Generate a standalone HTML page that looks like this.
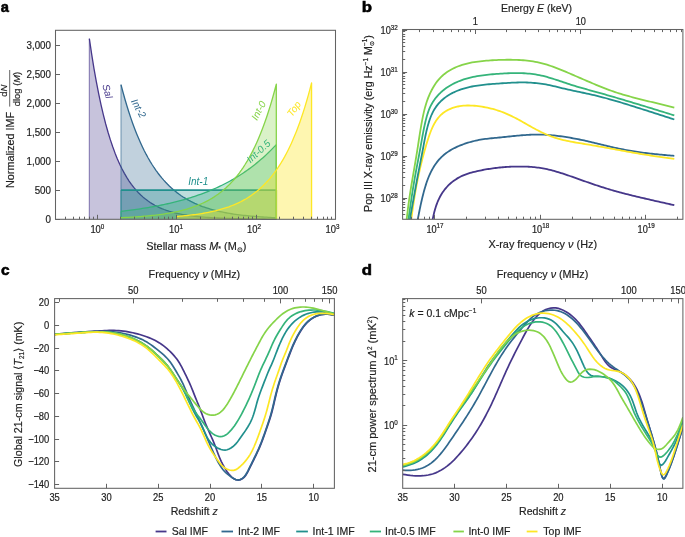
<!DOCTYPE html>
<html><head><meta charset="utf-8"><style>
html,body{margin:0;padding:0;background:#fff;width:685px;height:537px;overflow:hidden}
svg{display:block;font-family:"Liberation Sans", sans-serif;will-change:transform}
text[fill="#222222"]{stroke:#222222;stroke-width:0.18px}
</style></head><body>
<svg width="685" height="537" viewBox="0 0 685 537">
<rect width="685" height="537" fill="#fff"/>
<g>
<path d="M89.36,219.2 L89.36,38.67 L91.69,54.44 L94.03,68.83 L96.37,81.96 L98.7,93.95 L101.04,104.89 L103.38,114.87 L105.71,123.99 L108.05,132.3 L110.39,139.89 L112.73,146.82 L115.06,153.14 L117.4,158.91 L119.74,164.18 L122.07,168.98 L124.41,173.37 L126.75,177.37 L129.08,181.03 L131.42,184.36 L133.76,187.4 L136.09,190.18 L138.43,192.72 L140.77,195.03 L143.11,197.14 L145.44,199.07 L147.78,200.83 L150.12,202.43 L152.45,203.89 L154.79,205.23 L157.13,206.45 L159.46,207.57 L161.8,208.58 L164.14,209.51 L166.47,210.36 L168.81,211.13 L171.15,211.83 L173.48,212.48 L175.82,213.06 L178.16,213.6 L180.5,214.09 L182.83,214.54 L185.17,214.94 L187.51,215.31 L189.84,215.65 L192.18,215.96 L194.52,216.25 L196.85,216.5 L199.19,216.74 L201.53,216.95 L203.86,217.15 L206.2,217.33 L208.54,217.49 L210.88,217.64 L213.21,217.78 L215.55,217.9 L217.89,218.02 L220.22,218.12 L222.56,218.21 L224.9,218.3 L227.23,218.38 L229.57,218.45 L231.91,218.52 L234.24,218.58 L236.58,218.63 L238.92,218.68 L241.26,218.73 L243.59,218.77 L245.93,218.8 L248.27,218.84 L250.6,218.87 L252.94,218.9 L255.28,218.93 L257.61,218.95 L259.95,218.97 L262.29,218.99 L264.62,219.01 L266.96,219.03 L269.3,219.04 L271.63,219.06 L273.97,219.07 L276.31,219.08 L276.31,219.2 Z" fill="#46378a" fill-opacity="0.3" stroke="none"/>
<path d="M89.36,38.67 L91.69,54.44 L94.03,68.83 L96.37,81.96 L98.7,93.95 L101.04,104.89 L103.38,114.87 L105.71,123.99 L108.05,132.3 L110.39,139.89 L112.73,146.82 L115.06,153.14 L117.4,158.91 L119.74,164.18 L122.07,168.98 L124.41,173.37 L126.75,177.37 L129.08,181.03 L131.42,184.36 L133.76,187.4 L136.09,190.18 L138.43,192.72 L140.77,195.03 L143.11,197.14 L145.44,199.07 L147.78,200.83 L150.12,202.43 L152.45,203.89 L154.79,205.23 L157.13,206.45 L159.46,207.57 L161.8,208.58 L164.14,209.51 L166.47,210.36 L168.81,211.13 L171.15,211.83 L173.48,212.48 L175.82,213.06 L178.16,213.6 L180.5,214.09 L182.83,214.54 L185.17,214.94 L187.51,215.31 L189.84,215.65 L192.18,215.96 L194.52,216.25 L196.85,216.5 L199.19,216.74 L201.53,216.95 L203.86,217.15 L206.2,217.33 L208.54,217.49 L210.88,217.64 L213.21,217.78 L215.55,217.9 L217.89,218.02 L220.22,218.12 L222.56,218.21 L224.9,218.3 L227.23,218.38 L229.57,218.45 L231.91,218.52 L234.24,218.58 L236.58,218.63 L238.92,218.68 L241.26,218.73 L243.59,218.77 L245.93,218.8 L248.27,218.84 L250.6,218.87 L252.94,218.9 L255.28,218.93 L257.61,218.95 L259.95,218.97 L262.29,218.99 L264.62,219.01 L266.96,219.03 L269.3,219.04 L271.63,219.06 L273.97,219.07 L276.31,219.08 L276.31,219.2" fill="none" stroke="#46378a" stroke-width="1.3" stroke-linejoin="round"/>
<path d="M89.36,219.2 L89.36,38.67" fill="none" stroke="#46378a" stroke-width="1.2" stroke-opacity="0.55"/>
<path d="M120.98,219.2 L120.98,84.64 L122.93,92 L124.87,98.96 L126.81,105.53 L128.75,111.75 L130.69,117.63 L132.63,123.18 L134.58,128.43 L136.52,133.4 L138.46,138.09 L140.4,142.53 L142.34,146.72 L144.28,150.69 L146.22,154.43 L148.17,157.98 L150.11,161.32 L152.05,164.49 L153.99,167.48 L155.93,170.31 L157.87,172.98 L159.82,175.51 L161.76,177.9 L163.7,180.16 L165.64,182.3 L167.58,184.31 L169.52,186.22 L171.46,188.03 L173.41,189.73 L175.35,191.34 L177.29,192.87 L179.23,194.31 L181.17,195.67 L183.11,196.96 L185.06,198.17 L187,199.32 L188.94,200.41 L190.88,201.44 L192.82,202.41 L194.76,203.33 L196.71,204.2 L198.65,205.02 L200.59,205.79 L202.53,206.53 L204.47,207.22 L206.41,207.87 L208.35,208.49 L210.3,209.08 L212.24,209.63 L214.18,210.16 L216.12,210.65 L218.06,211.12 L220,211.56 L221.95,211.98 L223.89,212.37 L225.83,212.75 L227.77,213.1 L229.71,213.43 L231.65,213.75 L233.59,214.05 L235.54,214.33 L237.48,214.59 L239.42,214.85 L241.36,215.08 L243.3,215.31 L245.24,215.52 L247.19,215.72 L249.13,215.91 L251.07,216.09 L253.01,216.26 L254.95,216.42 L256.89,216.58 L258.83,216.72 L260.78,216.86 L262.72,216.98 L264.66,217.1 L266.6,217.22 L268.54,217.33 L270.48,217.43 L272.43,217.53 L274.37,217.62 L276.31,217.7 L276.31,219.2 Z" fill="#31688e" fill-opacity="0.3" stroke="none"/>
<path d="M120.98,84.64 L122.93,92 L124.87,98.96 L126.81,105.53 L128.75,111.75 L130.69,117.63 L132.63,123.18 L134.58,128.43 L136.52,133.4 L138.46,138.09 L140.4,142.53 L142.34,146.72 L144.28,150.69 L146.22,154.43 L148.17,157.98 L150.11,161.32 L152.05,164.49 L153.99,167.48 L155.93,170.31 L157.87,172.98 L159.82,175.51 L161.76,177.9 L163.7,180.16 L165.64,182.3 L167.58,184.31 L169.52,186.22 L171.46,188.03 L173.41,189.73 L175.35,191.34 L177.29,192.87 L179.23,194.31 L181.17,195.67 L183.11,196.96 L185.06,198.17 L187,199.32 L188.94,200.41 L190.88,201.44 L192.82,202.41 L194.76,203.33 L196.71,204.2 L198.65,205.02 L200.59,205.79 L202.53,206.53 L204.47,207.22 L206.41,207.87 L208.35,208.49 L210.3,209.08 L212.24,209.63 L214.18,210.16 L216.12,210.65 L218.06,211.12 L220,211.56 L221.95,211.98 L223.89,212.37 L225.83,212.75 L227.77,213.1 L229.71,213.43 L231.65,213.75 L233.59,214.05 L235.54,214.33 L237.48,214.59 L239.42,214.85 L241.36,215.08 L243.3,215.31 L245.24,215.52 L247.19,215.72 L249.13,215.91 L251.07,216.09 L253.01,216.26 L254.95,216.42 L256.89,216.58 L258.83,216.72 L260.78,216.86 L262.72,216.98 L264.66,217.1 L266.6,217.22 L268.54,217.33 L270.48,217.43 L272.43,217.53 L274.37,217.62 L276.31,217.7 L276.31,219.2" fill="none" stroke="#31688e" stroke-width="1.3" stroke-linejoin="round"/>
<path d="M120.98,219.2 L120.98,84.64" fill="none" stroke="#31688e" stroke-width="1.2" stroke-opacity="0.55"/>
<path d="M120.98,219.2 L120.98,190.08 L122.93,190.08 L124.87,190.08 L126.81,190.08 L128.75,190.08 L130.69,190.08 L132.63,190.08 L134.58,190.08 L136.52,190.08 L138.46,190.08 L140.4,190.08 L142.34,190.08 L144.28,190.08 L146.22,190.08 L148.17,190.08 L150.11,190.08 L152.05,190.08 L153.99,190.08 L155.93,190.08 L157.87,190.08 L159.82,190.08 L161.76,190.08 L163.7,190.08 L165.64,190.08 L167.58,190.08 L169.52,190.08 L171.46,190.08 L173.41,190.08 L175.35,190.08 L177.29,190.08 L179.23,190.08 L181.17,190.08 L183.11,190.08 L185.06,190.08 L187,190.08 L188.94,190.08 L190.88,190.08 L192.82,190.08 L194.76,190.08 L196.71,190.08 L198.65,190.08 L200.59,190.08 L202.53,190.08 L204.47,190.08 L206.41,190.08 L208.35,190.08 L210.3,190.08 L212.24,190.08 L214.18,190.08 L216.12,190.08 L218.06,190.08 L220,190.08 L221.95,190.08 L223.89,190.08 L225.83,190.08 L227.77,190.08 L229.71,190.08 L231.65,190.08 L233.59,190.08 L235.54,190.08 L237.48,190.08 L239.42,190.08 L241.36,190.08 L243.3,190.08 L245.24,190.08 L247.19,190.08 L249.13,190.08 L251.07,190.08 L253.01,190.08 L254.95,190.08 L256.89,190.08 L258.83,190.08 L260.78,190.08 L262.72,190.08 L264.66,190.08 L266.6,190.08 L268.54,190.08 L270.48,190.08 L272.43,190.08 L274.37,190.08 L276.31,190.08 L276.31,219.2 Z" fill="#21908d" fill-opacity="0.3" stroke="none"/>
<path d="M120.98,190.08 L122.93,190.08 L124.87,190.08 L126.81,190.08 L128.75,190.08 L130.69,190.08 L132.63,190.08 L134.58,190.08 L136.52,190.08 L138.46,190.08 L140.4,190.08 L142.34,190.08 L144.28,190.08 L146.22,190.08 L148.17,190.08 L150.11,190.08 L152.05,190.08 L153.99,190.08 L155.93,190.08 L157.87,190.08 L159.82,190.08 L161.76,190.08 L163.7,190.08 L165.64,190.08 L167.58,190.08 L169.52,190.08 L171.46,190.08 L173.41,190.08 L175.35,190.08 L177.29,190.08 L179.23,190.08 L181.17,190.08 L183.11,190.08 L185.06,190.08 L187,190.08 L188.94,190.08 L190.88,190.08 L192.82,190.08 L194.76,190.08 L196.71,190.08 L198.65,190.08 L200.59,190.08 L202.53,190.08 L204.47,190.08 L206.41,190.08 L208.35,190.08 L210.3,190.08 L212.24,190.08 L214.18,190.08 L216.12,190.08 L218.06,190.08 L220,190.08 L221.95,190.08 L223.89,190.08 L225.83,190.08 L227.77,190.08 L229.71,190.08 L231.65,190.08 L233.59,190.08 L235.54,190.08 L237.48,190.08 L239.42,190.08 L241.36,190.08 L243.3,190.08 L245.24,190.08 L247.19,190.08 L249.13,190.08 L251.07,190.08 L253.01,190.08 L254.95,190.08 L256.89,190.08 L258.83,190.08 L260.78,190.08 L262.72,190.08 L264.66,190.08 L266.6,190.08 L268.54,190.08 L270.48,190.08 L272.43,190.08 L274.37,190.08 L276.31,190.08 L276.31,219.2" fill="none" stroke="#21908d" stroke-width="1.6" stroke-linejoin="round"/>
<path d="M120.98,219.2 L120.98,190.08" fill="none" stroke="#21908d" stroke-width="1.2" stroke-opacity="0.55"/>
<path d="M120.98,219.2 L120.98,211.33 L122.93,211.11 L124.87,210.88 L126.81,210.64 L128.75,210.4 L130.69,210.15 L132.63,209.89 L134.58,209.62 L136.52,209.35 L138.46,209.07 L140.4,208.78 L142.34,208.48 L144.28,208.18 L146.22,207.86 L148.17,207.54 L150.11,207.21 L152.05,206.86 L153.99,206.51 L155.93,206.15 L157.87,205.78 L159.82,205.39 L161.76,205 L163.7,204.6 L165.64,204.18 L167.58,203.75 L169.52,203.31 L171.46,202.86 L173.41,202.39 L175.35,201.91 L177.29,201.42 L179.23,200.91 L181.17,200.39 L183.11,199.85 L185.06,199.3 L187,198.73 L188.94,198.15 L190.88,197.55 L192.82,196.93 L194.76,196.3 L196.71,195.64 L198.65,194.97 L200.59,194.28 L202.53,193.57 L204.47,192.84 L206.41,192.09 L208.35,191.31 L210.3,190.52 L212.24,189.7 L214.18,188.86 L216.12,187.99 L218.06,187.1 L220,186.19 L221.95,185.25 L223.89,184.28 L225.83,183.28 L227.77,182.26 L229.71,181.2 L231.65,180.12 L233.59,179 L235.54,177.86 L237.48,176.68 L239.42,175.47 L241.36,174.22 L243.3,172.94 L245.24,171.62 L247.19,170.26 L249.13,168.86 L251.07,167.43 L253.01,165.95 L254.95,164.43 L256.89,162.87 L258.83,161.26 L260.78,159.61 L262.72,157.91 L264.66,156.16 L266.6,154.36 L268.54,152.52 L270.48,150.61 L272.43,148.66 L274.37,146.64 L276.31,144.58 L276.31,219.2 Z" fill="#35b47a" fill-opacity="0.3" stroke="none"/>
<path d="M120.98,211.33 L122.93,211.11 L124.87,210.88 L126.81,210.64 L128.75,210.4 L130.69,210.15 L132.63,209.89 L134.58,209.62 L136.52,209.35 L138.46,209.07 L140.4,208.78 L142.34,208.48 L144.28,208.18 L146.22,207.86 L148.17,207.54 L150.11,207.21 L152.05,206.86 L153.99,206.51 L155.93,206.15 L157.87,205.78 L159.82,205.39 L161.76,205 L163.7,204.6 L165.64,204.18 L167.58,203.75 L169.52,203.31 L171.46,202.86 L173.41,202.39 L175.35,201.91 L177.29,201.42 L179.23,200.91 L181.17,200.39 L183.11,199.85 L185.06,199.3 L187,198.73 L188.94,198.15 L190.88,197.55 L192.82,196.93 L194.76,196.3 L196.71,195.64 L198.65,194.97 L200.59,194.28 L202.53,193.57 L204.47,192.84 L206.41,192.09 L208.35,191.31 L210.3,190.52 L212.24,189.7 L214.18,188.86 L216.12,187.99 L218.06,187.1 L220,186.19 L221.95,185.25 L223.89,184.28 L225.83,183.28 L227.77,182.26 L229.71,181.2 L231.65,180.12 L233.59,179 L235.54,177.86 L237.48,176.68 L239.42,175.47 L241.36,174.22 L243.3,172.94 L245.24,171.62 L247.19,170.26 L249.13,168.86 L251.07,167.43 L253.01,165.95 L254.95,164.43 L256.89,162.87 L258.83,161.26 L260.78,159.61 L262.72,157.91 L264.66,156.16 L266.6,154.36 L268.54,152.52 L270.48,150.61 L272.43,148.66 L274.37,146.64 L276.31,144.58 L276.31,219.2" fill="none" stroke="#35b47a" stroke-width="1.3" stroke-linejoin="round"/>
<path d="M120.98,219.2 L120.98,211.33" fill="none" stroke="#35b47a" stroke-width="1.2" stroke-opacity="0.55"/>
<path d="M120.98,219.2 L120.98,217.7 L122.93,217.61 L124.87,217.52 L126.81,217.42 L128.75,217.32 L130.69,217.21 L132.63,217.1 L134.58,216.97 L136.52,216.85 L138.46,216.71 L140.4,216.57 L142.34,216.41 L144.28,216.25 L146.22,216.08 L148.17,215.9 L150.11,215.71 L152.05,215.51 L153.99,215.29 L155.93,215.07 L157.87,214.83 L159.82,214.58 L161.76,214.31 L163.7,214.03 L165.64,213.73 L167.58,213.41 L169.52,213.08 L171.46,212.72 L173.41,212.35 L175.35,211.95 L177.29,211.53 L179.23,211.09 L181.17,210.62 L183.11,210.12 L185.06,209.59 L187,209.04 L188.94,208.45 L190.88,207.83 L192.82,207.17 L194.76,206.48 L196.71,205.74 L198.65,204.96 L200.59,204.14 L202.53,203.26 L204.47,202.34 L206.41,201.37 L208.35,200.34 L210.3,199.24 L212.24,198.09 L214.18,196.87 L216.12,195.58 L218.06,194.21 L220,192.76 L221.95,191.23 L223.89,189.61 L225.83,187.9 L227.77,186.09 L229.71,184.18 L231.65,182.15 L233.59,180.01 L235.54,177.74 L237.48,175.34 L239.42,172.8 L241.36,170.12 L243.3,167.28 L245.24,164.27 L247.19,161.09 L249.13,157.73 L251.07,154.18 L253.01,150.41 L254.95,146.43 L256.89,142.22 L258.83,137.77 L260.78,133.06 L262.72,128.07 L264.66,122.8 L266.6,117.22 L268.54,111.32 L270.48,105.08 L272.43,98.48 L274.37,91.5 L276.31,84.11 L276.31,219.2 Z" fill="#86d449" fill-opacity="0.3" stroke="none"/>
<path d="M120.98,217.7 L122.93,217.61 L124.87,217.52 L126.81,217.42 L128.75,217.32 L130.69,217.21 L132.63,217.1 L134.58,216.97 L136.52,216.85 L138.46,216.71 L140.4,216.57 L142.34,216.41 L144.28,216.25 L146.22,216.08 L148.17,215.9 L150.11,215.71 L152.05,215.51 L153.99,215.29 L155.93,215.07 L157.87,214.83 L159.82,214.58 L161.76,214.31 L163.7,214.03 L165.64,213.73 L167.58,213.41 L169.52,213.08 L171.46,212.72 L173.41,212.35 L175.35,211.95 L177.29,211.53 L179.23,211.09 L181.17,210.62 L183.11,210.12 L185.06,209.59 L187,209.04 L188.94,208.45 L190.88,207.83 L192.82,207.17 L194.76,206.48 L196.71,205.74 L198.65,204.96 L200.59,204.14 L202.53,203.26 L204.47,202.34 L206.41,201.37 L208.35,200.34 L210.3,199.24 L212.24,198.09 L214.18,196.87 L216.12,195.58 L218.06,194.21 L220,192.76 L221.95,191.23 L223.89,189.61 L225.83,187.9 L227.77,186.09 L229.71,184.18 L231.65,182.15 L233.59,180.01 L235.54,177.74 L237.48,175.34 L239.42,172.8 L241.36,170.12 L243.3,167.28 L245.24,164.27 L247.19,161.09 L249.13,157.73 L251.07,154.18 L253.01,150.41 L254.95,146.43 L256.89,142.22 L258.83,137.77 L260.78,133.06 L262.72,128.07 L264.66,122.8 L266.6,117.22 L268.54,111.32 L270.48,105.08 L272.43,98.48 L274.37,91.5 L276.31,84.11 L276.31,219.2" fill="none" stroke="#86d449" stroke-width="1.3" stroke-linejoin="round"/>
<path d="M120.98,219.2 L120.98,217.7" fill="none" stroke="#86d449" stroke-width="1.2" stroke-opacity="0.55"/>
<path d="M176.54,219.2 L176.54,216.47 L178.23,216.34 L179.91,216.19 L181.6,216.04 L183.29,215.89 L184.98,215.72 L186.67,215.54 L188.35,215.36 L190.04,215.17 L191.73,214.97 L193.42,214.75 L195.11,214.53 L196.79,214.3 L198.48,214.05 L200.17,213.79 L201.86,213.52 L203.55,213.24 L205.23,212.94 L206.92,212.63 L208.61,212.3 L210.3,211.95 L211.99,211.59 L213.67,211.21 L215.36,210.81 L217.05,210.39 L218.74,209.94 L220.43,209.48 L222.11,208.99 L223.8,208.48 L225.49,207.94 L227.18,207.38 L228.87,206.79 L230.55,206.16 L232.24,205.51 L233.93,204.83 L235.62,204.11 L237.3,203.35 L238.99,202.55 L240.68,201.72 L242.37,200.84 L244.06,199.92 L245.74,198.96 L247.43,197.94 L249.12,196.88 L250.81,195.76 L252.5,194.59 L254.18,193.35 L255.87,192.06 L257.56,190.7 L259.25,189.27 L260.94,187.77 L262.62,186.19 L264.31,184.54 L266,182.8 L267.69,180.98 L269.38,179.06 L271.06,177.05 L272.75,174.94 L274.44,172.72 L276.13,170.39 L277.82,167.94 L279.5,165.37 L281.19,162.68 L282.88,159.84 L284.57,156.87 L286.25,153.75 L287.94,150.47 L289.63,147.02 L291.32,143.4 L293.01,139.6 L294.69,135.62 L296.38,131.43 L298.07,127.03 L299.76,122.41 L301.45,117.56 L303.13,112.46 L304.82,107.12 L306.51,101.5 L308.2,95.6 L309.89,89.4 L311.57,82.9 L311.57,219.2 Z" fill="#fde725" fill-opacity="0.36" stroke="none"/>
<path d="M176.54,216.47 L178.23,216.34 L179.91,216.19 L181.6,216.04 L183.29,215.89 L184.98,215.72 L186.67,215.54 L188.35,215.36 L190.04,215.17 L191.73,214.97 L193.42,214.75 L195.11,214.53 L196.79,214.3 L198.48,214.05 L200.17,213.79 L201.86,213.52 L203.55,213.24 L205.23,212.94 L206.92,212.63 L208.61,212.3 L210.3,211.95 L211.99,211.59 L213.67,211.21 L215.36,210.81 L217.05,210.39 L218.74,209.94 L220.43,209.48 L222.11,208.99 L223.8,208.48 L225.49,207.94 L227.18,207.38 L228.87,206.79 L230.55,206.16 L232.24,205.51 L233.93,204.83 L235.62,204.11 L237.3,203.35 L238.99,202.55 L240.68,201.72 L242.37,200.84 L244.06,199.92 L245.74,198.96 L247.43,197.94 L249.12,196.88 L250.81,195.76 L252.5,194.59 L254.18,193.35 L255.87,192.06 L257.56,190.7 L259.25,189.27 L260.94,187.77 L262.62,186.19 L264.31,184.54 L266,182.8 L267.69,180.98 L269.38,179.06 L271.06,177.05 L272.75,174.94 L274.44,172.72 L276.13,170.39 L277.82,167.94 L279.5,165.37 L281.19,162.68 L282.88,159.84 L284.57,156.87 L286.25,153.75 L287.94,150.47 L289.63,147.02 L291.32,143.4 L293.01,139.6 L294.69,135.62 L296.38,131.43 L298.07,127.03 L299.76,122.41 L301.45,117.56 L303.13,112.46 L304.82,107.12 L306.51,101.5 L308.2,95.6 L309.89,89.4 L311.57,82.9 L311.57,219.2" fill="none" stroke="#fde725" stroke-width="1.3" stroke-linejoin="round"/>
<path d="M176.54,219.2 L176.54,216.47" fill="none" stroke="#fde725" stroke-width="1.2" stroke-opacity="0.55"/>
</g>
<text x="0" y="0" transform="translate(102.2,85.3) rotate(74)" fill="#46378a" font-size="10" font-style="italic" text-anchor="start" >Sal</text>
<text x="0" y="0" transform="translate(130.8,101.2) rotate(61)" fill="#31688e" font-size="10" font-style="italic" text-anchor="start" >Int-2</text>
<text x="188.2" y="185" fill="#21908d" font-size="10" font-style="italic">Int-1</text>
<text x="0" y="0" transform="translate(250.5,163.5) rotate(-43)" fill="#35b47a" font-size="10" font-style="italic" text-anchor="start" >Int-0.5</text>
<text x="0" y="0" transform="translate(257,121) rotate(-62.5)" fill="#86d449" font-size="10" font-style="italic" text-anchor="start" >Int-0</text>
<text x="0" y="0" transform="translate(292,117.5) rotate(-54)" fill="#fde725" font-size="10" font-style="italic" text-anchor="start" >Top</text>
<rect x="55.5" y="30.3" width="280" height="189" fill="none" stroke="#636363" stroke-width="1.05"/>
<line x1="55.5" y1="219.5" x2="60" y2="219.5" stroke="#636363" stroke-width="1"/>
<text x="0" y="0" transform="translate(51,222.8) scale(1,1.15)" font-size="9.8" text-anchor="end" fill="#222222">0</text>
<line x1="55.5" y1="190.5" x2="60" y2="190.5" stroke="#636363" stroke-width="1"/>
<text x="0" y="0" transform="translate(51,193.8) scale(1,1.15)" font-size="9.8" text-anchor="end" fill="#222222">500</text>
<line x1="55.5" y1="161.5" x2="60" y2="161.5" stroke="#636363" stroke-width="1"/>
<text x="0" y="0" transform="translate(51,164.8) scale(1,1.15)" font-size="9.8" text-anchor="end" fill="#222222">1,000</text>
<line x1="55.5" y1="132.5" x2="60" y2="132.5" stroke="#636363" stroke-width="1"/>
<text x="0" y="0" transform="translate(51,135.8) scale(1,1.15)" font-size="9.8" text-anchor="end" fill="#222222">1,500</text>
<line x1="55.5" y1="103.5" x2="60" y2="103.5" stroke="#636363" stroke-width="1"/>
<text x="0" y="0" transform="translate(51,106.8) scale(1,1.15)" font-size="9.8" text-anchor="end" fill="#222222">2,000</text>
<line x1="55.5" y1="74.5" x2="60" y2="74.5" stroke="#636363" stroke-width="1"/>
<text x="0" y="0" transform="translate(51,77.8) scale(1,1.15)" font-size="9.8" text-anchor="end" fill="#222222">2,500</text>
<line x1="55.5" y1="45.5" x2="60" y2="45.5" stroke="#636363" stroke-width="1"/>
<text x="0" y="0" transform="translate(51,48.8) scale(1,1.15)" font-size="9.8" text-anchor="end" fill="#222222">3,000</text>
<line x1="55.5" y1="219.3" x2="55.5" y2="216.7" stroke="#636363" stroke-width="1"/>
<line x1="65.5" y1="219.3" x2="65.5" y2="216.7" stroke="#636363" stroke-width="1"/>
<line x1="73.5" y1="219.3" x2="73.5" y2="216.7" stroke="#636363" stroke-width="1"/>
<line x1="79.5" y1="219.3" x2="79.5" y2="216.7" stroke="#636363" stroke-width="1"/>
<line x1="84.5" y1="219.3" x2="84.5" y2="216.7" stroke="#636363" stroke-width="1"/>
<line x1="89.5" y1="219.3" x2="89.5" y2="216.7" stroke="#636363" stroke-width="1"/>
<line x1="93.5" y1="219.3" x2="93.5" y2="216.7" stroke="#636363" stroke-width="1"/>
<line x1="97.5" y1="219.3" x2="97.5" y2="214.8" stroke="#636363" stroke-width="1"/>
<line x1="120.5" y1="219.3" x2="120.5" y2="216.7" stroke="#636363" stroke-width="1"/>
<line x1="134.5" y1="219.3" x2="134.5" y2="216.7" stroke="#636363" stroke-width="1"/>
<line x1="144.5" y1="219.3" x2="144.5" y2="216.7" stroke="#636363" stroke-width="1"/>
<line x1="152.5" y1="219.3" x2="152.5" y2="216.7" stroke="#636363" stroke-width="1"/>
<line x1="158.5" y1="219.3" x2="158.5" y2="216.7" stroke="#636363" stroke-width="1"/>
<line x1="164.5" y1="219.3" x2="164.5" y2="216.7" stroke="#636363" stroke-width="1"/>
<line x1="168.5" y1="219.3" x2="168.5" y2="216.7" stroke="#636363" stroke-width="1"/>
<line x1="172.5" y1="219.3" x2="172.5" y2="216.7" stroke="#636363" stroke-width="1"/>
<line x1="176.5" y1="219.3" x2="176.5" y2="214.8" stroke="#636363" stroke-width="1"/>
<line x1="200.5" y1="219.3" x2="200.5" y2="216.7" stroke="#636363" stroke-width="1"/>
<line x1="214.5" y1="219.3" x2="214.5" y2="216.7" stroke="#636363" stroke-width="1"/>
<line x1="224.5" y1="219.3" x2="224.5" y2="216.7" stroke="#636363" stroke-width="1"/>
<line x1="232.5" y1="219.3" x2="232.5" y2="216.7" stroke="#636363" stroke-width="1"/>
<line x1="238.5" y1="219.3" x2="238.5" y2="216.7" stroke="#636363" stroke-width="1"/>
<line x1="243.5" y1="219.3" x2="243.5" y2="216.7" stroke="#636363" stroke-width="1"/>
<line x1="248.5" y1="219.3" x2="248.5" y2="216.7" stroke="#636363" stroke-width="1"/>
<line x1="252.5" y1="219.3" x2="252.5" y2="216.7" stroke="#636363" stroke-width="1"/>
<line x1="256.5" y1="219.3" x2="256.5" y2="214.8" stroke="#636363" stroke-width="1"/>
<line x1="279.5" y1="219.3" x2="279.5" y2="216.7" stroke="#636363" stroke-width="1"/>
<line x1="293.5" y1="219.3" x2="293.5" y2="216.7" stroke="#636363" stroke-width="1"/>
<line x1="303.5" y1="219.3" x2="303.5" y2="216.7" stroke="#636363" stroke-width="1"/>
<line x1="311.5" y1="219.3" x2="311.5" y2="216.7" stroke="#636363" stroke-width="1"/>
<line x1="317.5" y1="219.3" x2="317.5" y2="216.7" stroke="#636363" stroke-width="1"/>
<line x1="323.5" y1="219.3" x2="323.5" y2="216.7" stroke="#636363" stroke-width="1"/>
<line x1="327.5" y1="219.3" x2="327.5" y2="216.7" stroke="#636363" stroke-width="1"/>
<line x1="331.5" y1="219.3" x2="331.5" y2="216.7" stroke="#636363" stroke-width="1"/>
<text x="0" y="0" transform="translate(97.36,232.9) scale(1,1.15)" font-size="9.4" text-anchor="middle" fill="#222222">10<tspan dy="-3.6" font-size="6.3">0</tspan></text>
<text x="0" y="0" transform="translate(176.04,232.9) scale(1,1.15)" font-size="9.4" text-anchor="middle" fill="#222222">10<tspan dy="-3.6" font-size="6.3">1</tspan></text>
<text x="0" y="0" transform="translate(254.02,232.9) scale(1,1.15)" font-size="9.4" text-anchor="middle" fill="#222222">10<tspan dy="-3.6" font-size="6.3">2</tspan></text>
<text x="0" y="0" transform="translate(332.5,232.9) scale(1,1.15)" font-size="9.4" text-anchor="middle" fill="#222222">10<tspan dy="-3.6" font-size="6.3">3</tspan></text>
<text x="146.3" y="249.8" font-size="10.9" fill="#222222">Stellar mass <tspan font-style="italic">M</tspan><tspan font-size="7" dy="1">*</tspan><tspan dy="-1"> (M</tspan><tspan font-size="7" dy="2">⊙</tspan><tspan dy="-2">)</tspan></text>
<g transform="translate(13.6,188) rotate(-90)"><text x="0" y="0" font-size="10.8" fill="#222222">Normalized IMF</text></g>
<line x1="9.7" y1="70" x2="9.7" y2="106.6" stroke="#222222" stroke-width="0.7"/>
<g transform="translate(7.4,90.8) rotate(-90)"><text x="0" y="0" font-size="9.4" text-anchor="middle" fill="#222222">d<tspan font-style="italic">N</tspan></text></g>
<g transform="translate(19.6,89) rotate(-90)"><text x="0" y="0" font-size="9.4" text-anchor="middle" fill="#222222">dlog (<tspan font-style="italic">M</tspan>)</text></g>
<text x="0" y="0" transform="translate(0.8,11.6) scale(0.98,1)" font-size="15" font-weight="bold" fill="#000" stroke="#000" stroke-width="0.55">a</text>
<clipPath id="cb"><rect x="402.6" y="29.5" width="280.3" height="189.8"/></clipPath>
<g clip-path="url(#cb)">
<path d="M430.39,231.99 L430.63,230.56 L430.87,229.14 L431.12,227.71 L431.37,226.28 L431.62,224.86 L431.88,223.43 L432.14,222.01 L432.42,220.58 L432.7,219.16 L432.99,217.74 L433.3,216.32 L433.62,214.9 L433.95,213.49 L434.3,212.08 L434.67,210.69 L435.06,209.29 L435.47,207.91 L435.91,206.54 L436.37,205.17 L436.86,203.82 L437.37,202.48 L437.92,201.16 L438.49,199.85 L439.1,198.55 L439.75,197.27 L440.43,196.01 L441.14,194.77 L441.89,193.55 L442.67,192.35 L443.49,191.18 L444.34,190.03 L445.22,188.91 L446.14,187.81 L447.09,186.75 L448.07,185.71 L449.08,184.71 L450.13,183.74 L451.2,182.8 L452.31,181.89 L453.44,181.02 L454.6,180.19 L455.78,179.39 L456.99,178.63 L458.22,177.9 L459.47,177.21 L460.75,176.56 L462.04,175.94 L463.35,175.37 L464.67,174.83 L466.02,174.32 L467.37,173.84 L468.74,173.4 L470.12,172.98 L471.5,172.58 L472.9,172.2 L474.3,171.85 L475.71,171.51 L477.12,171.18 L478.54,170.87 L479.95,170.57 L481.37,170.28 L482.79,170 L484.21,169.73 L485.63,169.48 L487.06,169.23 L488.48,169 L489.91,168.77 L491.34,168.56 L492.77,168.36 L494.2,168.17 L495.63,167.99 L497.06,167.82 L498.49,167.66 L499.92,167.51 L501.36,167.37 L502.79,167.24 L504.23,167.13 L505.67,167.02 L507.1,166.92 L508.54,166.84 L509.98,166.76 L511.41,166.7 L512.85,166.65 L514.29,166.6 L515.73,166.57 L517.17,166.55 L518.61,166.53 L520.05,166.53 L521.49,166.54 L522.93,166.56 L524.37,166.59 L525.81,166.64 L527.24,166.7 L528.68,166.77 L530.11,166.85 L531.55,166.96 L532.98,167.07 L534.41,167.21 L535.84,167.36 L537.26,167.53 L538.68,167.71 L540.1,167.92 L541.52,168.14 L542.93,168.39 L544.34,168.66 L545.74,168.94 L547.15,169.24 L548.54,169.56 L549.94,169.89 L551.33,170.24 L552.72,170.61 L554.11,170.99 L555.49,171.38 L556.88,171.78 L558.25,172.19 L559.63,172.61 L561,173.04 L562.38,173.48 L563.75,173.93 L565.11,174.38 L566.48,174.84 L567.84,175.3 L569.2,175.77 L570.56,176.24 L571.92,176.72 L573.28,177.2 L574.63,177.68 L575.99,178.16 L577.35,178.64 L578.7,179.12 L580.06,179.6 L581.41,180.08 L582.77,180.56 L584.12,181.04 L585.48,181.52 L586.84,181.99 L588.2,182.46 L589.55,182.93 L590.91,183.4 L592.27,183.87 L593.63,184.33 L595,184.79 L596.36,185.24 L597.72,185.7 L599.09,186.14 L600.46,186.59 L601.83,187.03 L603.19,187.47 L604.57,187.9 L605.94,188.33 L607.31,188.75 L608.69,189.17 L610.06,189.58 L611.44,189.99 L612.82,190.39 L614.2,190.79 L615.58,191.18 L616.97,191.57 L618.35,191.95 L619.74,192.33 L621.13,192.7 L622.52,193.06 L623.91,193.43 L625.3,193.79 L626.69,194.14 L628.09,194.49 L629.48,194.84 L630.88,195.19 L632.27,195.53 L633.67,195.87 L635.07,196.2 L636.47,196.54 L637.86,196.87 L639.26,197.2 L640.66,197.53 L642.06,197.85 L643.46,198.18 L644.86,198.5 L646.27,198.83 L647.67,199.15 L649.07,199.47 L650.47,199.8 L651.87,200.12 L653.27,200.44 L654.67,200.76 L656.07,201.08 L657.48,201.4 L658.88,201.72 L660.28,202.04 L661.68,202.35 L663.08,202.67 L664.48,202.99 L665.89,203.31 L667.29,203.62 L668.69,203.94 L670.09,204.25 L671.5,204.57 L672.9,204.89 L674.3,205.2" fill="none" stroke="#46378a" stroke-width="1.8" stroke-linecap="butt"/>
<path d="M415.48,232 L415.77,230.42 L416.05,228.84 L416.34,227.26 L416.63,225.68 L416.92,224.1 L417.21,222.52 L417.5,220.94 L417.8,219.36 L418.09,217.78 L418.39,216.2 L418.7,214.62 L419,213.04 L419.32,211.47 L419.63,209.89 L419.95,208.31 L420.28,206.74 L420.62,205.17 L420.96,203.59 L421.31,202.02 L421.67,200.45 L422.03,198.88 L422.41,197.32 L422.8,195.75 L423.19,194.19 L423.6,192.63 L424.02,191.07 L424.45,189.51 L424.9,187.95 L425.36,186.4 L425.84,184.86 L426.34,183.32 L426.85,181.79 L427.39,180.26 L427.96,178.75 L428.55,177.25 L429.16,175.76 L429.81,174.29 L430.49,172.83 L431.2,171.39 L431.94,169.97 L432.72,168.57 L433.53,167.18 L434.38,165.83 L435.27,164.49 L436.2,163.19 L437.16,161.91 L438.16,160.67 L439.19,159.46 L440.27,158.29 L441.38,157.16 L442.54,156.06 L443.73,155.02 L444.96,154.01 L446.23,153.05 L447.53,152.12 L448.86,151.24 L450.22,150.39 L451.6,149.58 L453.01,148.81 L454.44,148.07 L455.9,147.36 L457.36,146.68 L458.85,146.03 L460.34,145.41 L461.85,144.82 L463.37,144.25 L464.89,143.71 L466.42,143.19 L467.96,142.7 L469.51,142.24 L471.06,141.8 L472.62,141.39 L474.18,141 L475.75,140.64 L477.32,140.3 L478.9,139.99 L480.48,139.7 L482.07,139.44 L483.66,139.2 L485.25,138.98 L486.84,138.78 L488.44,138.59 L490.04,138.41 L491.64,138.25 L493.24,138.09 L494.84,137.94 L496.44,137.78 L498.04,137.63 L499.64,137.48 L501.24,137.33 L502.84,137.16 L504.44,137 L506.04,136.83 L507.64,136.67 L509.24,136.5 L510.84,136.33 L512.44,136.17 L514.04,136 L515.64,135.85 L517.24,135.69 L518.84,135.54 L520.44,135.4 L522.04,135.27 L523.64,135.15 L525.25,135.03 L526.85,134.93 L528.45,134.84 L530.06,134.76 L531.66,134.69 L533.26,134.64 L534.87,134.6 L536.47,134.57 L538.08,134.57 L539.68,134.58 L541.28,134.61 L542.89,134.66 L544.49,134.72 L546.09,134.81 L547.69,134.91 L549.29,135.03 L550.89,135.17 L552.49,135.31 L554.09,135.48 L555.68,135.66 L557.28,135.85 L558.87,136.05 L560.47,136.26 L562.06,136.48 L563.65,136.72 L565.24,136.96 L566.83,137.21 L568.41,137.47 L570,137.73 L571.58,138.01 L573.16,138.29 L574.74,138.58 L576.32,138.88 L577.9,139.18 L579.48,139.5 L581.05,139.82 L582.62,140.15 L584.19,140.49 L585.76,140.83 L587.33,141.18 L588.89,141.54 L590.46,141.91 L592.02,142.28 L593.58,142.66 L595.14,143.03 L596.71,143.41 L598.27,143.8 L599.83,144.18 L601.39,144.56 L602.95,144.95 L604.51,145.33 L606.07,145.7 L607.63,146.08 L609.19,146.45 L610.76,146.82 L612.32,147.18 L613.89,147.53 L615.45,147.88 L617.02,148.22 L618.6,148.55 L620.17,148.87 L621.74,149.19 L623.32,149.49 L624.9,149.79 L626.48,150.08 L628.06,150.37 L629.64,150.65 L631.22,150.92 L632.81,151.18 L634.39,151.43 L635.98,151.68 L637.57,151.92 L639.16,152.15 L640.75,152.37 L642.34,152.59 L643.93,152.8 L645.52,153 L647.12,153.2 L648.71,153.39 L650.31,153.57 L651.9,153.75 L653.5,153.92 L655.1,154.09 L656.7,154.25 L658.29,154.4 L659.89,154.56 L661.49,154.71 L663.09,154.85 L664.69,155 L666.29,155.14 L667.89,155.28 L669.49,155.42 L671.09,155.56 L672.7,155.69 L674.3,155.83" fill="none" stroke="#31688e" stroke-width="1.8" stroke-linecap="butt"/>
<path d="M409.5,232 L409.76,230.17 L410.01,228.35 L410.27,226.52 L410.52,224.69 L410.77,222.87 L411.03,221.04 L411.28,219.21 L411.53,217.39 L411.79,215.56 L412.04,213.73 L412.3,211.91 L412.55,210.08 L412.81,208.26 L413.08,206.43 L413.35,204.61 L413.62,202.78 L413.9,200.96 L414.18,199.14 L414.47,197.32 L414.76,195.5 L415.06,193.68 L415.37,191.86 L415.69,190.04 L416.01,188.23 L416.34,186.42 L416.68,184.6 L417.03,182.79 L417.38,180.98 L417.75,179.18 L418.12,177.37 L418.49,175.56 L418.88,173.76 L419.27,171.96 L419.68,170.16 L420.09,168.36 L420.5,166.57 L420.93,164.77 L421.36,162.98 L421.81,161.18 L422.26,159.39 L422.72,157.61 L423.19,155.82 L423.67,154.03 L424.15,152.24 L424.65,150.46 L425.16,148.68 L425.67,146.89 L426.2,145.11 L426.74,143.33 L427.28,141.55 L427.84,139.77 L428.41,137.99 L429,136.21 L429.6,134.45 L430.24,132.7 L430.91,130.96 L431.62,129.24 L432.36,127.55 L433.16,125.88 L434.01,124.25 L434.91,122.65 L435.88,121.09 L436.91,119.59 L438,118.14 L439.16,116.75 L440.4,115.44 L441.71,114.21 L443.09,113.06 L444.54,111.99 L446.06,111.01 L447.63,110.12 L449.26,109.31 L450.93,108.58 L452.64,107.94 L454.38,107.38 L456.15,106.89 L457.95,106.49 L459.77,106.16 L461.6,105.89 L463.44,105.7 L465.29,105.57 L467.14,105.5 L468.99,105.49 L470.85,105.53 L472.7,105.62 L474.55,105.76 L476.4,105.94 L478.24,106.16 L480.08,106.41 L481.92,106.69 L483.75,107 L485.57,107.33 L487.38,107.7 L489.19,108.09 L490.99,108.52 L492.78,108.98 L494.55,109.47 L496.32,109.99 L498.08,110.55 L499.82,111.14 L501.56,111.76 L503.28,112.42 L504.99,113.1 L506.68,113.81 L508.37,114.56 L510.04,115.33 L511.7,116.12 L513.35,116.94 L514.99,117.78 L516.63,118.64 L518.25,119.52 L519.87,120.41 L521.49,121.31 L523.1,122.22 L524.71,123.13 L526.32,124.04 L527.93,124.96 L529.54,125.87 L531.15,126.78 L532.77,127.68 L534.39,128.57 L536.01,129.45 L537.65,130.31 L539.29,131.16 L540.93,131.98 L542.59,132.78 L544.26,133.55 L545.94,134.3 L547.63,135.02 L549.33,135.7 L551.05,136.35 L552.78,136.96 L554.52,137.54 L556.28,138.09 L558.04,138.61 L559.82,139.11 L561.6,139.57 L563.39,140.02 L565.18,140.44 L566.98,140.83 L568.79,141.21 L570.6,141.57 L572.42,141.91 L574.23,142.24 L576.05,142.56 L577.87,142.87 L579.69,143.17 L581.52,143.47 L583.34,143.76 L585.16,144.06 L586.98,144.36 L588.8,144.67 L590.62,144.98 L592.44,145.29 L594.26,145.61 L596.07,145.92 L597.89,146.24 L599.71,146.56 L601.52,146.89 L603.34,147.22 L605.15,147.54 L606.97,147.87 L608.78,148.2 L610.59,148.54 L612.41,148.87 L614.22,149.2 L616.03,149.54 L617.85,149.87 L619.66,150.21 L621.47,150.54 L623.29,150.87 L625.1,151.2 L626.92,151.53 L628.73,151.86 L630.55,152.19 L632.36,152.51 L634.18,152.83 L635.99,153.14 L637.81,153.46 L639.63,153.76 L641.45,154.07 L643.27,154.37 L645.09,154.66 L646.91,154.95 L648.73,155.23 L650.55,155.5 L652.38,155.78 L654.2,156.04 L656.03,156.31 L657.85,156.57 L659.68,156.83 L661.5,157.08 L663.33,157.33 L665.16,157.58 L666.99,157.83 L668.81,158.08 L670.64,158.33 L672.47,158.57 L674.3,158.82" fill="none" stroke="#fde725" stroke-width="1.8" stroke-linecap="butt"/>
<path d="M407.95,231.99 L408.23,230.11 L408.51,228.23 L408.8,226.35 L409.09,224.47 L409.38,222.59 L409.68,220.71 L409.99,218.84 L410.31,216.96 L410.63,215.09 L410.96,213.21 L411.29,211.34 L411.62,209.47 L411.96,207.59 L412.3,205.72 L412.63,203.85 L412.97,201.98 L413.31,200.1 L413.64,198.23 L413.98,196.36 L414.32,194.49 L414.66,192.62 L414.99,190.74 L415.33,188.87 L415.67,187 L416.01,185.13 L416.36,183.26 L416.7,181.39 L417.05,179.52 L417.4,177.65 L417.76,175.79 L418.11,173.92 L418.47,172.05 L418.83,170.19 L419.2,168.32 L419.56,166.45 L419.93,164.59 L420.29,162.72 L420.66,160.85 L421.02,158.98 L421.39,157.11 L421.75,155.24 L422.11,153.37 L422.47,151.49 L422.82,149.61 L423.18,147.73 L423.53,145.84 L423.88,143.96 L424.23,142.07 L424.58,140.19 L424.95,138.3 L425.32,136.42 L425.71,134.55 L426.12,132.67 L426.54,130.81 L426.99,128.95 L427.46,127.1 L427.96,125.26 L428.49,123.43 L429.05,121.62 L429.65,119.82 L430.29,118.03 L430.97,116.26 L431.71,114.52 L432.5,112.8 L433.36,111.13 L434.29,109.49 L435.29,107.9 L436.37,106.36 L437.51,104.87 L438.72,103.44 L440,102.05 L441.34,100.73 L442.74,99.47 L444.19,98.27 L445.7,97.13 L447.26,96.06 L448.86,95.04 L450.5,94.08 L452.18,93.17 L453.88,92.32 L455.62,91.52 L457.37,90.78 L459.15,90.09 L460.95,89.44 L462.76,88.84 L464.59,88.29 L466.43,87.78 L468.28,87.31 L470.14,86.89 L472.01,86.5 L473.89,86.14 L475.77,85.82 L477.66,85.53 L479.55,85.27 L481.44,85.03 L483.34,84.81 L485.23,84.61 L487.13,84.42 L489.03,84.25 L490.93,84.09 L492.83,83.94 L494.73,83.8 L496.64,83.66 L498.54,83.53 L500.44,83.4 L502.34,83.27 L504.24,83.15 L506.15,83.03 L508.05,82.91 L509.95,82.81 L511.85,82.71 L513.75,82.63 L515.66,82.55 L517.56,82.5 L519.46,82.46 L521.36,82.44 L523.26,82.45 L525.16,82.47 L527.06,82.52 L528.96,82.6 L530.86,82.7 L532.75,82.83 L534.65,82.98 L536.54,83.16 L538.43,83.37 L540.31,83.6 L542.19,83.86 L544.07,84.16 L545.94,84.48 L547.8,84.83 L549.67,85.21 L551.52,85.61 L553.38,86.03 L555.23,86.46 L557.08,86.91 L558.93,87.36 L560.78,87.81 L562.63,88.26 L564.48,88.7 L566.33,89.14 L568.19,89.56 L570.05,89.98 L571.91,90.38 L573.77,90.79 L575.63,91.18 L577.49,91.58 L579.35,91.97 L581.21,92.36 L583.08,92.75 L584.94,93.15 L586.8,93.54 L588.65,93.95 L590.51,94.36 L592.37,94.78 L594.22,95.21 L596.07,95.65 L597.92,96.1 L599.76,96.56 L601.6,97.03 L603.44,97.51 L605.28,98 L607.11,98.5 L608.95,99.01 L610.78,99.53 L612.61,100.05 L614.43,100.58 L616.26,101.12 L618.08,101.66 L619.91,102.2 L621.73,102.75 L623.55,103.31 L625.37,103.87 L627.19,104.43 L629,104.99 L630.82,105.56 L632.64,106.13 L634.45,106.7 L636.27,107.27 L638.08,107.84 L639.9,108.41 L641.71,108.99 L643.52,109.57 L645.34,110.14 L647.15,110.72 L648.96,111.3 L650.77,111.88 L652.58,112.47 L654.4,113.05 L656.21,113.63 L658.02,114.22 L659.83,114.8 L661.64,115.39 L663.45,115.97 L665.26,116.56 L667.06,117.15 L668.87,117.73 L670.68,118.32 L672.49,118.91 L674.3,119.5" fill="none" stroke="#21908d" stroke-width="1.8" stroke-linecap="butt"/>
<path d="M406.52,232 L406.82,230.07 L407.12,228.14 L407.41,226.2 L407.71,224.27 L408,222.34 L408.28,220.4 L408.57,218.47 L408.85,216.53 L409.13,214.6 L409.41,212.66 L409.68,210.72 L409.96,208.79 L410.23,206.85 L410.51,204.91 L410.79,202.98 L411.07,201.04 L411.36,199.11 L411.65,197.17 L411.95,195.24 L412.25,193.31 L412.55,191.38 L412.86,189.44 L413.17,187.51 L413.49,185.58 L413.81,183.66 L414.14,181.73 L414.47,179.8 L414.8,177.87 L415.14,175.95 L415.49,174.02 L415.84,172.1 L416.19,170.18 L416.55,168.26 L416.91,166.33 L417.28,164.41 L417.64,162.49 L418.01,160.57 L418.38,158.65 L418.74,156.73 L419.11,154.8 L419.47,152.88 L419.82,150.95 L420.18,149.02 L420.53,147.09 L420.87,145.16 L421.21,143.23 L421.55,141.3 L421.89,139.36 L422.24,137.43 L422.58,135.5 L422.94,133.57 L423.31,131.64 L423.68,129.71 L424.07,127.79 L424.48,125.87 L424.9,123.95 L425.34,122.04 L425.8,120.14 L426.29,118.24 L426.8,116.35 L427.36,114.47 L427.95,112.61 L428.6,110.77 L429.32,108.96 L430.09,107.18 L430.94,105.43 L431.86,103.72 L432.85,102.05 L433.9,100.42 L435.02,98.84 L436.21,97.31 L437.47,95.83 L438.78,94.4 L440.16,93.03 L441.59,91.71 L443.08,90.44 L444.61,89.23 L446.18,88.08 L447.8,86.98 L449.46,85.94 L451.15,84.95 L452.87,84.01 L454.62,83.13 L456.39,82.3 L458.19,81.52 L460.02,80.79 L461.85,80.12 L463.71,79.48 L465.58,78.9 L467.47,78.36 L469.36,77.86 L471.27,77.39 L473.18,76.97 L475.11,76.58 L477.03,76.22 L478.97,75.9 L480.9,75.6 L482.84,75.32 L484.79,75.07 L486.74,74.84 L488.69,74.63 L490.64,74.44 L492.59,74.26 L494.54,74.09 L496.49,73.94 L498.45,73.8 L500.4,73.66 L502.36,73.54 L504.32,73.43 L506.27,73.33 L508.23,73.25 L510.19,73.18 L512.15,73.13 L514.11,73.1 L516.06,73.09 L518.02,73.1 L519.98,73.13 L521.94,73.19 L523.89,73.27 L525.84,73.39 L527.79,73.53 L529.74,73.71 L531.68,73.92 L533.61,74.17 L535.54,74.45 L537.46,74.78 L539.37,75.14 L541.28,75.55 L543.17,75.99 L545.07,76.47 L546.95,76.98 L548.83,77.52 L550.7,78.08 L552.57,78.65 L554.44,79.25 L556.3,79.86 L558.17,80.47 L560.03,81.09 L561.88,81.71 L563.74,82.33 L565.6,82.95 L567.46,83.57 L569.32,84.17 L571.19,84.78 L573.05,85.37 L574.92,85.95 L576.79,86.52 L578.66,87.08 L580.54,87.63 L582.42,88.17 L584.3,88.7 L586.19,89.23 L588.07,89.75 L589.95,90.27 L591.84,90.79 L593.72,91.31 L595.61,91.84 L597.49,92.36 L599.38,92.89 L601.26,93.42 L603.14,93.95 L605.02,94.49 L606.9,95.03 L608.78,95.57 L610.66,96.11 L612.54,96.66 L614.42,97.2 L616.29,97.75 L618.17,98.3 L620.05,98.86 L621.92,99.41 L623.8,99.97 L625.67,100.52 L627.55,101.08 L629.42,101.65 L631.29,102.21 L633.17,102.77 L635.04,103.34 L636.91,103.9 L638.78,104.47 L640.65,105.04 L642.52,105.61 L644.4,106.18 L646.27,106.75 L648.14,107.32 L650.01,107.9 L651.88,108.47 L653.75,109.05 L655.61,109.62 L657.48,110.2 L659.35,110.77 L661.22,111.35 L663.09,111.93 L664.96,112.51 L666.83,113.08 L668.7,113.66 L670.56,114.24 L672.43,114.82 L674.3,115.4" fill="none" stroke="#35b47a" stroke-width="1.8" stroke-linecap="butt"/>
<path d="M405.19,232 L405.42,229.97 L405.65,227.95 L405.89,225.92 L406.12,223.89 L406.36,221.87 L406.59,219.84 L406.83,217.82 L407.07,215.79 L407.32,213.77 L407.56,211.74 L407.81,209.72 L408.07,207.7 L408.33,205.67 L408.6,203.65 L408.87,201.63 L409.16,199.61 L409.45,197.59 L409.75,195.58 L410.05,193.56 L410.37,191.55 L410.69,189.53 L411.02,187.52 L411.35,185.51 L411.69,183.5 L412.03,181.49 L412.37,179.47 L412.71,177.46 L413.06,175.45 L413.4,173.44 L413.74,171.43 L414.09,169.42 L414.43,167.41 L414.77,165.4 L415.11,163.39 L415.45,161.38 L415.78,159.37 L416.12,157.36 L416.45,155.34 L416.78,153.33 L417.1,151.32 L417.42,149.3 L417.74,147.29 L418.05,145.27 L418.37,143.26 L418.68,141.24 L418.99,139.22 L419.3,137.21 L419.62,135.19 L419.93,133.18 L420.26,131.16 L420.59,129.15 L420.93,127.13 L421.27,125.12 L421.63,123.11 L422,121.1 L422.38,119.09 L422.78,117.09 L423.19,115.09 L423.63,113.09 L424.09,111.1 L424.59,109.12 L425.11,107.14 L425.68,105.18 L426.28,103.22 L426.92,101.28 L427.61,99.35 L428.34,97.44 L429.12,95.55 L429.94,93.67 L430.81,91.82 L431.73,90 L432.7,88.2 L433.72,86.44 L434.81,84.71 L435.95,83.03 L437.16,81.41 L438.44,79.83 L439.78,78.32 L441.18,76.87 L442.66,75.49 L444.19,74.18 L445.79,72.95 L447.45,71.79 L449.16,70.7 L450.92,69.69 L452.72,68.74 L454.55,67.85 L456.42,67.03 L458.31,66.27 L460.23,65.56 L462.17,64.92 L464.13,64.32 L466.1,63.79 L468.09,63.3 L470.09,62.86 L472.09,62.48 L474.11,62.13 L476.13,61.82 L478.16,61.55 L480.19,61.3 L482.23,61.08 L484.27,60.88 L486.3,60.7 L488.34,60.54 L490.38,60.39 L492.42,60.26 L494.46,60.14 L496.5,60.04 L498.54,59.95 L500.59,59.88 L502.63,59.83 L504.67,59.79 L506.71,59.77 L508.76,59.76 L510.8,59.77 L512.84,59.8 L514.88,59.84 L516.93,59.9 L518.97,59.98 L521,60.09 L523.04,60.23 L525.07,60.39 L527.1,60.59 L529.12,60.83 L531.13,61.1 L533.14,61.42 L535.14,61.78 L537.14,62.18 L539.13,62.62 L541.11,63.1 L543.08,63.61 L545.04,64.15 L547,64.73 L548.94,65.34 L550.88,65.98 L552.81,66.65 L554.73,67.35 L556.64,68.06 L558.54,68.8 L560.43,69.56 L562.32,70.34 L564.21,71.13 L566.09,71.93 L567.96,72.73 L569.84,73.54 L571.71,74.35 L573.58,75.17 L575.46,75.98 L577.33,76.79 L579.2,77.6 L581.07,78.42 L582.95,79.22 L584.82,80.03 L586.7,80.83 L588.57,81.63 L590.45,82.43 L592.33,83.23 L594.21,84.02 L596.09,84.8 L597.98,85.58 L599.87,86.35 L601.76,87.12 L603.65,87.87 L605.55,88.61 L607.45,89.34 L609.36,90.06 L611.28,90.76 L613.2,91.44 L615.13,92.1 L617.06,92.74 L619,93.36 L620.95,93.96 L622.9,94.54 L624.85,95.11 L626.82,95.67 L628.78,96.21 L630.75,96.75 L632.72,97.27 L634.7,97.78 L636.67,98.29 L638.65,98.79 L640.63,99.29 L642.61,99.78 L644.59,100.27 L646.57,100.76 L648.56,101.26 L650.54,101.75 L652.52,102.23 L654.5,102.72 L656.48,103.21 L658.46,103.7 L660.44,104.19 L662.42,104.68 L664.4,105.16 L666.38,105.65 L668.36,106.14 L670.34,106.63 L672.32,107.11 L674.3,107.6" fill="none" stroke="#86d449" stroke-width="1.8" stroke-linecap="butt"/>
</g>
<rect x="402.6" y="29.5" width="280.3" height="189.8" fill="none" stroke="#636363" stroke-width="1.05"/>
<line x1="411.5" y1="219.3" x2="411.5" y2="216.7" stroke="#636363" stroke-width="1"/>
<line x1="418.5" y1="219.3" x2="418.5" y2="216.7" stroke="#636363" stroke-width="1"/>
<line x1="424.5" y1="219.3" x2="424.5" y2="216.7" stroke="#636363" stroke-width="1"/>
<line x1="429.5" y1="219.3" x2="429.5" y2="216.7" stroke="#636363" stroke-width="1"/>
<line x1="434.5" y1="219.3" x2="434.5" y2="214.8" stroke="#636363" stroke-width="1"/>
<line x1="466.5" y1="219.3" x2="466.5" y2="216.7" stroke="#636363" stroke-width="1"/>
<line x1="485.5" y1="219.3" x2="485.5" y2="216.7" stroke="#636363" stroke-width="1"/>
<line x1="498.5" y1="219.3" x2="498.5" y2="216.7" stroke="#636363" stroke-width="1"/>
<line x1="508.5" y1="219.3" x2="508.5" y2="216.7" stroke="#636363" stroke-width="1"/>
<line x1="516.5" y1="219.3" x2="516.5" y2="216.7" stroke="#636363" stroke-width="1"/>
<line x1="523.5" y1="219.3" x2="523.5" y2="216.7" stroke="#636363" stroke-width="1"/>
<line x1="530.5" y1="219.3" x2="530.5" y2="216.7" stroke="#636363" stroke-width="1"/>
<line x1="535.5" y1="219.3" x2="535.5" y2="216.7" stroke="#636363" stroke-width="1"/>
<line x1="540.5" y1="219.3" x2="540.5" y2="214.8" stroke="#636363" stroke-width="1"/>
<line x1="572.5" y1="219.3" x2="572.5" y2="216.7" stroke="#636363" stroke-width="1"/>
<line x1="590.5" y1="219.3" x2="590.5" y2="216.7" stroke="#636363" stroke-width="1"/>
<line x1="603.5" y1="219.3" x2="603.5" y2="216.7" stroke="#636363" stroke-width="1"/>
<line x1="614.5" y1="219.3" x2="614.5" y2="216.7" stroke="#636363" stroke-width="1"/>
<line x1="622.5" y1="219.3" x2="622.5" y2="216.7" stroke="#636363" stroke-width="1"/>
<line x1="629.5" y1="219.3" x2="629.5" y2="216.7" stroke="#636363" stroke-width="1"/>
<line x1="635.5" y1="219.3" x2="635.5" y2="216.7" stroke="#636363" stroke-width="1"/>
<line x1="641.5" y1="219.3" x2="641.5" y2="216.7" stroke="#636363" stroke-width="1"/>
<line x1="645.5" y1="219.3" x2="645.5" y2="214.8" stroke="#636363" stroke-width="1"/>
<line x1="677.5" y1="219.3" x2="677.5" y2="216.7" stroke="#636363" stroke-width="1"/>
<line x1="419.5" y1="29.5" x2="419.5" y2="32.1" stroke="#636363" stroke-width="1"/>
<line x1="433.5" y1="29.5" x2="433.5" y2="32.1" stroke="#636363" stroke-width="1"/>
<line x1="443.5" y1="29.5" x2="443.5" y2="32.1" stroke="#636363" stroke-width="1"/>
<line x1="451.5" y1="29.5" x2="451.5" y2="32.1" stroke="#636363" stroke-width="1"/>
<line x1="458.5" y1="29.5" x2="458.5" y2="32.1" stroke="#636363" stroke-width="1"/>
<line x1="464.5" y1="29.5" x2="464.5" y2="32.1" stroke="#636363" stroke-width="1"/>
<line x1="470.5" y1="29.5" x2="470.5" y2="32.1" stroke="#636363" stroke-width="1"/>
<line x1="475.5" y1="29.5" x2="475.5" y2="34" stroke="#636363" stroke-width="1"/>
<line x1="506.5" y1="29.5" x2="506.5" y2="32.1" stroke="#636363" stroke-width="1"/>
<line x1="525.5" y1="29.5" x2="525.5" y2="32.1" stroke="#636363" stroke-width="1"/>
<line x1="538.5" y1="29.5" x2="538.5" y2="32.1" stroke="#636363" stroke-width="1"/>
<line x1="549.5" y1="29.5" x2="549.5" y2="32.1" stroke="#636363" stroke-width="1"/>
<line x1="557.5" y1="29.5" x2="557.5" y2="32.1" stroke="#636363" stroke-width="1"/>
<line x1="564.5" y1="29.5" x2="564.5" y2="32.1" stroke="#636363" stroke-width="1"/>
<line x1="570.5" y1="29.5" x2="570.5" y2="32.1" stroke="#636363" stroke-width="1"/>
<line x1="575.5" y1="29.5" x2="575.5" y2="32.1" stroke="#636363" stroke-width="1"/>
<line x1="580.5" y1="29.5" x2="580.5" y2="34" stroke="#636363" stroke-width="1"/>
<line x1="612.5" y1="29.5" x2="612.5" y2="32.1" stroke="#636363" stroke-width="1"/>
<line x1="631.5" y1="29.5" x2="631.5" y2="32.1" stroke="#636363" stroke-width="1"/>
<line x1="644.5" y1="29.5" x2="644.5" y2="32.1" stroke="#636363" stroke-width="1"/>
<line x1="654.5" y1="29.5" x2="654.5" y2="32.1" stroke="#636363" stroke-width="1"/>
<line x1="662.5" y1="29.5" x2="662.5" y2="32.1" stroke="#636363" stroke-width="1"/>
<line x1="670.5" y1="29.5" x2="670.5" y2="32.1" stroke="#636363" stroke-width="1"/>
<line x1="676.5" y1="29.5" x2="676.5" y2="32.1" stroke="#636363" stroke-width="1"/>
<line x1="681.5" y1="29.5" x2="681.5" y2="32.1" stroke="#636363" stroke-width="1"/>
<line x1="402.6" y1="214.5" x2="405.2" y2="214.5" stroke="#636363" stroke-width="1"/>
<line x1="402.6" y1="210.5" x2="405.2" y2="210.5" stroke="#636363" stroke-width="1"/>
<line x1="402.6" y1="207.5" x2="405.2" y2="207.5" stroke="#636363" stroke-width="1"/>
<line x1="402.6" y1="204.5" x2="405.2" y2="204.5" stroke="#636363" stroke-width="1"/>
<line x1="402.6" y1="202.5" x2="405.2" y2="202.5" stroke="#636363" stroke-width="1"/>
<line x1="402.6" y1="199.5" x2="405.2" y2="199.5" stroke="#636363" stroke-width="1"/>
<line x1="402.6" y1="198.5" x2="407.1" y2="198.5" stroke="#636363" stroke-width="1"/>
<line x1="402.6" y1="185.5" x2="405.2" y2="185.5" stroke="#636363" stroke-width="1"/>
<line x1="402.6" y1="177.5" x2="405.2" y2="177.5" stroke="#636363" stroke-width="1"/>
<line x1="402.6" y1="172.5" x2="405.2" y2="172.5" stroke="#636363" stroke-width="1"/>
<line x1="402.6" y1="168.5" x2="405.2" y2="168.5" stroke="#636363" stroke-width="1"/>
<line x1="402.6" y1="165.5" x2="405.2" y2="165.5" stroke="#636363" stroke-width="1"/>
<line x1="402.6" y1="162.5" x2="405.2" y2="162.5" stroke="#636363" stroke-width="1"/>
<line x1="402.6" y1="160.5" x2="405.2" y2="160.5" stroke="#636363" stroke-width="1"/>
<line x1="402.6" y1="157.5" x2="405.2" y2="157.5" stroke="#636363" stroke-width="1"/>
<line x1="402.6" y1="156.5" x2="407.1" y2="156.5" stroke="#636363" stroke-width="1"/>
<line x1="402.6" y1="143.5" x2="405.2" y2="143.5" stroke="#636363" stroke-width="1"/>
<line x1="402.6" y1="135.5" x2="405.2" y2="135.5" stroke="#636363" stroke-width="1"/>
<line x1="402.6" y1="130.5" x2="405.2" y2="130.5" stroke="#636363" stroke-width="1"/>
<line x1="402.6" y1="126.5" x2="405.2" y2="126.5" stroke="#636363" stroke-width="1"/>
<line x1="402.6" y1="123.5" x2="405.2" y2="123.5" stroke="#636363" stroke-width="1"/>
<line x1="402.6" y1="120.5" x2="405.2" y2="120.5" stroke="#636363" stroke-width="1"/>
<line x1="402.6" y1="118.5" x2="405.2" y2="118.5" stroke="#636363" stroke-width="1"/>
<line x1="402.6" y1="115.5" x2="405.2" y2="115.5" stroke="#636363" stroke-width="1"/>
<line x1="402.6" y1="114.5" x2="407.1" y2="114.5" stroke="#636363" stroke-width="1"/>
<line x1="402.6" y1="101.5" x2="405.2" y2="101.5" stroke="#636363" stroke-width="1"/>
<line x1="402.6" y1="93.5" x2="405.2" y2="93.5" stroke="#636363" stroke-width="1"/>
<line x1="402.6" y1="88.5" x2="405.2" y2="88.5" stroke="#636363" stroke-width="1"/>
<line x1="402.6" y1="84.5" x2="405.2" y2="84.5" stroke="#636363" stroke-width="1"/>
<line x1="402.6" y1="81.5" x2="405.2" y2="81.5" stroke="#636363" stroke-width="1"/>
<line x1="402.6" y1="78.5" x2="405.2" y2="78.5" stroke="#636363" stroke-width="1"/>
<line x1="402.6" y1="76.5" x2="405.2" y2="76.5" stroke="#636363" stroke-width="1"/>
<line x1="402.6" y1="73.5" x2="405.2" y2="73.5" stroke="#636363" stroke-width="1"/>
<line x1="402.6" y1="72.5" x2="407.1" y2="72.5" stroke="#636363" stroke-width="1"/>
<line x1="402.6" y1="59.5" x2="405.2" y2="59.5" stroke="#636363" stroke-width="1"/>
<line x1="402.6" y1="51.5" x2="405.2" y2="51.5" stroke="#636363" stroke-width="1"/>
<line x1="402.6" y1="46.5" x2="405.2" y2="46.5" stroke="#636363" stroke-width="1"/>
<line x1="402.6" y1="42.5" x2="405.2" y2="42.5" stroke="#636363" stroke-width="1"/>
<line x1="402.6" y1="39.5" x2="405.2" y2="39.5" stroke="#636363" stroke-width="1"/>
<line x1="402.6" y1="36.5" x2="405.2" y2="36.5" stroke="#636363" stroke-width="1"/>
<line x1="402.6" y1="34.5" x2="405.2" y2="34.5" stroke="#636363" stroke-width="1"/>
<line x1="402.6" y1="31.5" x2="405.2" y2="31.5" stroke="#636363" stroke-width="1"/>
<line x1="402.6" y1="30.5" x2="407.1" y2="30.5" stroke="#636363" stroke-width="1"/>
<text x="0" y="0" transform="translate(397.8,202) scale(1,1.15)" font-size="9.2" text-anchor="end" fill="#222222" >10<tspan dy="-3.8" font-size="6.3">28</tspan></text>
<text x="0" y="0" transform="translate(397.8,160) scale(1,1.15)" font-size="9.2" text-anchor="end" fill="#222222" >10<tspan dy="-3.8" font-size="6.3">29</tspan></text>
<text x="0" y="0" transform="translate(397.8,118) scale(1,1.15)" font-size="9.2" text-anchor="end" fill="#222222" >10<tspan dy="-3.8" font-size="6.3">30</tspan></text>
<text x="0" y="0" transform="translate(397.8,76) scale(1,1.15)" font-size="9.2" text-anchor="end" fill="#222222" >10<tspan dy="-3.8" font-size="6.3">31</tspan></text>
<text x="0" y="0" transform="translate(397.8,34) scale(1,1.15)" font-size="9.2" text-anchor="end" fill="#222222" >10<tspan dy="-3.8" font-size="6.3">32</tspan></text>
<text x="0" y="0" transform="translate(435,232.8) scale(1,1.15)" font-size="9.2" text-anchor="middle" fill="#222222" >10<tspan dy="-4.2" font-size="6.3">17</tspan></text>
<text x="0" y="0" transform="translate(540.6,232.8) scale(1,1.15)" font-size="9.2" text-anchor="middle" fill="#222222" >10<tspan dy="-4.2" font-size="6.3">18</tspan></text>
<text x="0" y="0" transform="translate(646.2,232.8) scale(1,1.15)" font-size="9.2" text-anchor="middle" fill="#222222" >10<tspan dy="-4.2" font-size="6.3">19</tspan></text>
<text x="0" y="0" transform="translate(475.19,24.9) scale(1,1.15)" font-size="9.2" text-anchor="middle" fill="#222222" >1</text>
<text x="0" y="0" transform="translate(580.79,24.9) scale(1,1.15)" font-size="9.2" text-anchor="middle" fill="#222222" >10</text>
<text x="500.9" y="11.9" font-size="10.5" text-anchor="start" fill="#222222" >Energy <tspan font-style="italic">E</tspan> (keV)</text>
<text x="488.4" y="248.3" font-size="10.86" text-anchor="start" fill="#222222" >X-ray frequency <tspan font-style="italic">ν</tspan> (Hz)</text>
<g transform="translate(371.5,212) rotate(-90)"><text x="0" y="0" font-size="10.7" fill="#222222">Pop III X-ray emissivity (erg Hz<tspan font-size="6.5" dy="-4">−1</tspan><tspan dy="4"> M</tspan><tspan font-size="6" dy="2">⊙</tspan><tspan font-size="6.3" dx="-5" dy="-6.5">−1</tspan><tspan dy="4.5">)</tspan></text></g>
<text x="0" y="0" transform="translate(361.8,11.5) scale(1.12,1)" font-size="15" font-weight="bold" fill="#000" stroke="#000" stroke-width="0.55">b</text>
<clipPath id="cc"><rect x="54.6" y="298.6" width="279.8" height="189.7"/></clipPath>
<g clip-path="url(#cc)">
<path d="M54.6,334.3 L56.97,334.09 L59.34,333.89 L61.72,333.68 L64.09,333.48 L66.46,333.28 L68.83,333.08 L71.2,332.88 L73.58,332.69 L75.95,332.51 L78.32,332.33 L80.69,332.15 L83.06,331.98 L85.44,331.82 L87.81,331.66 L90.18,331.51 L92.56,331.36 L94.94,331.21 L97.31,331.07 L99.69,330.93 L102.08,330.79 L104.46,330.66 L106.84,330.55 L109.23,330.47 L111.61,330.43 L113.99,330.43 L116.37,330.49 L118.74,330.61 L121.11,330.82 L123.47,331.09 L125.83,331.44 L128.17,331.84 L130.51,332.3 L132.84,332.79 L135.16,333.33 L137.47,333.92 L139.77,334.55 L142.05,335.23 L144.32,335.96 L146.57,336.75 L148.81,337.59 L151.02,338.49 L153.19,339.47 L155.33,340.53 L157.41,341.67 L159.44,342.9 L161.42,344.22 L163.35,345.63 L165.22,347.11 L167.04,348.65 L168.82,350.26 L170.54,351.91 L172.21,353.63 L173.81,355.39 L175.35,357.22 L176.81,359.1 L178.18,361.04 L179.46,363.04 L180.66,365.1 L181.8,367.19 L182.89,369.31 L183.95,371.44 L185,373.58 L186.06,375.72 L187.1,377.87 L188.12,380.01 L189.13,382.17 L190.1,384.34 L191.04,386.53 L191.94,388.73 L192.83,390.94 L193.7,393.15 L194.58,395.36 L195.47,397.57 L196.36,399.78 L197.26,401.98 L198.16,404.19 L199.04,406.4 L199.9,408.62 L200.74,410.84 L201.56,413.08 L202.39,415.31 L203.21,417.54 L204.05,419.77 L204.9,421.99 L205.78,424.2 L206.7,426.4 L207.64,428.58 L208.61,430.76 L209.59,432.93 L210.57,435.1 L211.54,437.27 L212.5,439.45 L213.44,441.64 L214.34,443.84 L215.2,446.06 L216.04,448.29 L216.87,450.52 L217.69,452.75 L218.54,454.98 L219.42,457.19 L220.34,459.38 L221.33,461.54 L222.37,463.68 L223.48,465.79 L224.66,467.87 L225.92,469.91 L227.25,471.91 L228.69,473.84 L230.25,475.67 L231.96,477.36 L233.87,478.79 L236,479.74 L238.27,480.03 L240.52,479.61 L242.56,478.58 L244.3,477.08 L245.8,475.23 L247.11,473.12 L248.29,470.89 L249.4,468.63 L250.48,466.43 L251.55,464.28 L252.6,462.16 L253.64,460.05 L254.68,457.93 L255.71,455.8 L256.74,453.66 L257.75,451.51 L258.73,449.34 L259.7,447.15 L260.62,444.95 L261.51,442.74 L262.37,440.52 L263.19,438.29 L264,436.05 L264.79,433.8 L265.57,431.55 L266.35,429.31 L267.14,427.06 L267.92,424.81 L268.69,422.56 L269.44,420.3 L270.17,418.03 L270.87,415.76 L271.52,413.47 L272.14,411.17 L272.72,408.87 L273.28,406.55 L273.82,404.24 L274.36,401.91 L274.9,399.59 L275.44,397.27 L276,394.96 L276.58,392.65 L277.17,390.34 L277.78,388.04 L278.42,385.75 L279.09,383.46 L279.79,381.19 L280.52,378.93 L281.28,376.68 L282.08,374.43 L282.89,372.19 L283.72,369.96 L284.56,367.73 L285.4,365.51 L286.25,363.28 L287.08,361.05 L287.92,358.82 L288.75,356.59 L289.59,354.37 L290.45,352.15 L291.33,349.93 L292.24,347.73 L293.17,345.54 L294.14,343.37 L295.15,341.21 L296.2,339.07 L297.28,336.95 L298.42,334.85 L299.6,332.78 L300.83,330.74 L302.14,328.74 L303.52,326.79 L305,324.93 L306.59,323.15 L308.3,321.48 L310.12,319.93 L312.06,318.53 L314.11,317.29 L316.26,316.23 L318.49,315.37 L320.79,314.74 L323.12,314.34 L325.48,314.19 L327.84,314.25 L330.22,314.47 L332.61,314.79 L335,315.17" fill="none" stroke="#46378a" stroke-width="1.7"/>
<path d="M54.6,334.3 L56.95,334.12 L59.29,333.95 L61.64,333.77 L63.99,333.6 L66.33,333.42 L68.68,333.25 L71.02,333.07 L73.37,332.9 L75.72,332.72 L78.06,332.54 L80.41,332.37 L82.76,332.19 L85.1,332.02 L87.45,331.86 L89.8,331.71 L92.15,331.58 L94.5,331.46 L96.85,331.38 L99.2,331.32 L101.56,331.29 L103.92,331.3 L106.28,331.35 L108.64,331.45 L110.99,331.6 L113.34,331.8 L115.67,332.06 L118,332.38 L120.32,332.77 L122.63,333.22 L124.92,333.74 L127.21,334.32 L129.48,334.94 L131.75,335.61 L134,336.33 L136.23,337.11 L138.44,337.95 L140.61,338.86 L142.74,339.85 L144.83,340.92 L146.86,342.09 L148.84,343.34 L150.79,344.66 L152.7,346.04 L154.58,347.47 L156.44,348.93 L158.29,350.41 L160.13,351.9 L161.94,353.42 L163.71,354.98 L165.42,356.59 L167.06,358.27 L168.61,360.02 L170.06,361.86 L171.44,363.77 L172.74,365.73 L174,367.73 L175.22,369.75 L176.42,371.79 L177.61,373.83 L178.79,375.87 L179.94,377.92 L181.06,379.99 L182.13,382.08 L183.15,384.2 L184.11,386.34 L185.03,388.51 L185.93,390.68 L186.83,392.86 L187.73,395.04 L188.65,397.2 L189.6,399.36 L190.56,401.5 L191.53,403.65 L192.51,405.78 L193.5,407.92 L194.49,410.06 L195.47,412.19 L196.46,414.33 L197.44,416.47 L198.42,418.61 L199.4,420.75 L200.37,422.89 L201.34,425.03 L202.3,427.18 L203.26,429.33 L204.22,431.48 L205.17,433.63 L206.11,435.78 L207.06,437.94 L208,440.09 L208.94,442.25 L209.87,444.41 L210.81,446.57 L211.74,448.73 L212.69,450.89 L213.64,453.04 L214.62,455.19 L215.63,457.31 L216.68,459.42 L217.78,461.51 L218.93,463.56 L220.15,465.59 L221.45,467.57 L222.85,469.46 L224.37,471.25 L226.03,472.9 L227.84,474.41 L229.74,475.82 L231.66,477.24 L233.6,478.6 L235.68,479.6 L237.89,479.98 L240.08,479.62 L242.1,478.64 L243.83,477.18 L245.32,475.35 L246.62,473.28 L247.8,471.06 L248.9,468.83 L249.98,466.64 L251.03,464.51 L252.07,462.41 L253.1,460.32 L254.13,458.23 L255.15,456.13 L256.17,454.02 L257.17,451.89 L258.15,449.75 L259.11,447.59 L260.03,445.42 L260.92,443.24 L261.77,441.04 L262.59,438.84 L263.39,436.62 L264.17,434.41 L264.95,432.18 L265.72,429.96 L266.5,427.74 L267.27,425.52 L268.04,423.29 L268.79,421.06 L269.52,418.82 L270.22,416.58 L270.88,414.32 L271.51,412.05 L272.09,409.78 L272.66,407.49 L273.2,405.2 L273.73,402.91 L274.26,400.61 L274.8,398.32 L275.34,396.03 L275.9,393.74 L276.48,391.46 L277.07,389.18 L277.69,386.91 L278.34,384.65 L279.01,382.4 L279.72,380.15 L280.46,377.92 L281.23,375.7 L282.02,373.48 L282.83,371.28 L283.65,369.07 L284.49,366.87 L285.32,364.67 L286.15,362.47 L286.98,360.26 L287.8,358.06 L288.63,355.85 L289.47,353.66 L290.32,351.46 L291.2,349.28 L292.1,347.1 L293.03,344.94 L294,342.8 L295.01,340.67 L296.05,338.56 L297.14,336.47 L298.27,334.4 L299.45,332.36 L300.68,330.34 L301.98,328.38 L303.36,326.47 L304.84,324.63 L306.43,322.89 L308.14,321.26 L309.96,319.75 L311.89,318.38 L313.92,317.17 L316.06,316.14 L318.27,315.31 L320.55,314.7 L322.86,314.32 L325.18,314.19 L327.53,314.26 L329.88,314.48 L332.24,314.8 L334.6,315.17" fill="none" stroke="#31688e" stroke-width="1.7"/>
<path d="M54.6,334.3 L56.71,334.16 L58.82,334.02 L60.93,333.88 L63.04,333.74 L65.15,333.6 L67.26,333.45 L69.37,333.31 L71.48,333.17 L73.59,333.03 L75.7,332.89 L77.82,332.74 L79.93,332.6 L82.04,332.46 L84.15,332.32 L86.26,332.19 L88.37,332.07 L90.49,331.96 L92.6,331.88 L94.71,331.82 L96.83,331.78 L98.95,331.78 L101.07,331.82 L103.19,331.89 L105.3,332.01 L107.42,332.17 L109.53,332.38 L111.64,332.63 L113.73,332.94 L115.82,333.3 L117.89,333.72 L119.95,334.19 L122,334.73 L124.03,335.32 L126.04,335.97 L128.05,336.66 L130.03,337.41 L132.01,338.19 L133.96,339.02 L135.89,339.9 L137.8,340.82 L139.68,341.8 L141.53,342.84 L143.34,343.93 L145.11,345.08 L146.83,346.3 L148.52,347.57 L150.17,348.88 L151.79,350.24 L153.39,351.64 L154.97,353.06 L156.53,354.5 L158.08,355.95 L159.62,357.42 L161.15,358.9 L162.65,360.39 L164.12,361.92 L165.55,363.47 L166.93,365.07 L168.25,366.71 L169.52,368.39 L170.73,370.12 L171.91,371.88 L173.06,373.65 L174.2,375.44 L175.35,377.22 L176.51,379 L177.69,380.76 L178.88,382.51 L180.05,384.27 L181.19,386.05 L182.27,387.86 L183.3,389.7 L184.28,391.57 L185.22,393.47 L186.14,395.38 L187.03,397.3 L187.91,399.23 L188.79,401.16 L189.68,403.08 L190.57,405.01 L191.48,406.92 L192.41,408.82 L193.37,410.71 L194.35,412.58 L195.36,414.43 L196.41,416.26 L197.5,418.07 L198.61,419.88 L199.7,421.69 L200.75,423.53 L201.74,425.4 L202.65,427.33 L203.51,429.29 L204.35,431.26 L205.19,433.22 L206.07,435.16 L207.01,437.05 L208.04,438.88 L209.19,440.63 L210.49,442.28 L211.95,443.81 L213.55,445.22 L215.28,446.5 L217.11,447.64 L219.03,448.64 L221.03,449.45 L223.07,449.98 L225.12,450.11 L227.14,449.76 L229.1,449.03 L230.95,448.02 L232.68,446.79 L234.3,445.39 L235.8,443.84 L237.19,442.2 L238.49,440.51 L239.72,438.78 L240.95,437.06 L242.18,435.33 L243.4,433.61 L244.61,431.87 L245.79,430.11 L246.95,428.33 L248.06,426.53 L249.13,424.7 L250.13,422.84 L251.07,420.94 L251.93,419.02 L252.7,417.06 L253.4,415.07 L254.05,413.06 L254.66,411.03 L255.23,408.99 L255.79,406.94 L256.34,404.89 L256.9,402.84 L257.48,400.8 L258.09,398.78 L258.75,396.76 L259.43,394.76 L260.14,392.77 L260.87,390.78 L261.61,388.8 L262.36,386.83 L263.12,384.85 L263.88,382.88 L264.65,380.91 L265.43,378.94 L266.2,376.97 L266.97,375 L267.76,373.04 L268.57,371.08 L269.42,369.15 L270.3,367.22 L271.18,365.3 L272.04,363.37 L272.86,361.42 L273.66,359.46 L274.43,357.49 L275.19,355.52 L275.94,353.54 L276.7,351.57 L277.46,349.59 L278.25,347.63 L279.05,345.67 L279.88,343.72 L280.74,341.79 L281.62,339.86 L282.54,337.96 L283.51,336.07 L284.52,334.21 L285.58,332.38 L286.71,330.59 L287.91,328.84 L289.17,327.14 L290.51,325.49 L291.93,323.91 L293.41,322.4 L294.97,320.96 L296.6,319.6 L298.31,318.33 L300.08,317.16 L301.91,316.09 L303.81,315.13 L305.76,314.29 L307.75,313.57 L309.8,312.98 L311.87,312.5 L313.96,312.15 L316.07,311.92 L318.19,311.8 L320.3,311.8 L322.4,311.9 L324.51,312.08 L326.61,312.34 L328.71,312.65 L330.81,313.01 L332.9,313.39 L335,313.79" fill="none" stroke="#21908d" stroke-width="1.7"/>
<path d="M54.6,334.3 L56.61,334.17 L58.63,334.03 L60.64,333.9 L62.65,333.76 L64.66,333.63 L66.68,333.49 L68.69,333.36 L70.7,333.22 L72.71,333.09 L74.73,332.95 L76.74,332.82 L78.75,332.68 L80.77,332.54 L82.78,332.41 L84.79,332.28 L86.81,332.16 L88.82,332.04 L90.84,331.95 L92.85,331.87 L94.87,331.81 L96.89,331.78 L98.91,331.78 L100.93,331.82 L102.95,331.88 L104.97,331.99 L106.99,332.13 L109,332.32 L111.01,332.55 L113.01,332.83 L115.01,333.15 L116.99,333.53 L118.96,333.96 L120.92,334.44 L122.86,334.97 L124.79,335.56 L126.71,336.19 L128.62,336.87 L130.51,337.59 L132.39,338.35 L134.25,339.15 L136.09,339.99 L137.91,340.88 L139.7,341.81 L141.46,342.8 L143.19,343.84 L144.88,344.93 L146.53,346.08 L148.15,347.28 L149.73,348.53 L151.28,349.81 L152.82,351.13 L154.33,352.48 L155.82,353.84 L157.3,355.22 L158.78,356.62 L160.24,358.02 L161.69,359.43 L163.12,360.87 L164.51,362.33 L165.86,363.82 L167.17,365.35 L168.42,366.92 L169.61,368.54 L170.76,370.19 L171.88,371.87 L172.98,373.56 L174.07,375.26 L175.17,376.96 L176.28,378.65 L177.42,380.32 L178.57,381.98 L179.72,383.64 L180.83,385.32 L181.9,387.02 L182.9,388.76 L183.86,390.53 L184.78,392.33 L185.68,394.14 L186.56,395.96 L187.43,397.78 L188.32,399.6 L189.22,401.41 L190.14,403.21 L191.1,404.99 L192.08,406.76 L193.11,408.5 L194.17,410.21 L195.27,411.89 L196.42,413.55 L197.6,415.17 L198.82,416.78 L200.05,418.38 L201.27,419.99 L202.48,421.62 L203.66,423.28 L204.84,424.94 L206.03,426.58 L207.27,428.19 L208.56,429.75 L209.93,431.23 L211.41,432.61 L213,433.87 L214.71,434.95 L216.55,435.79 L218.49,436.34 L220.47,436.53 L222.45,436.34 L224.34,435.76 L226.09,434.81 L227.68,433.58 L229.16,432.17 L230.56,430.69 L231.89,429.15 L233.16,427.56 L234.37,425.93 L235.52,424.27 L236.64,422.57 L237.71,420.85 L238.75,419.11 L239.75,417.35 L240.74,415.58 L241.71,413.8 L242.65,412.02 L243.58,410.23 L244.49,408.43 L245.38,406.62 L246.26,404.8 L247.13,402.98 L247.97,401.15 L248.81,399.32 L249.63,397.48 L250.44,395.63 L251.24,393.78 L252.02,391.92 L252.79,390.05 L253.55,388.18 L254.29,386.31 L255.02,384.42 L255.74,382.54 L256.44,380.65 L257.15,378.75 L257.86,376.87 L258.58,374.98 L259.32,373.11 L260.09,371.24 L260.88,369.39 L261.71,367.55 L262.56,365.72 L263.43,363.9 L264.3,362.08 L265.17,360.26 L266.04,358.44 L266.89,356.61 L267.74,354.78 L268.58,352.95 L269.4,351.1 L270.21,349.25 L271,347.4 L271.79,345.54 L272.6,343.69 L273.43,341.85 L274.3,340.04 L275.22,338.25 L276.18,336.48 L277.18,334.73 L278.21,333 L279.27,331.27 L280.34,329.55 L281.42,327.83 L282.52,326.12 L283.65,324.43 L284.83,322.78 L286.07,321.19 L287.39,319.67 L288.81,318.25 L290.34,316.94 L291.97,315.74 L293.68,314.66 L295.47,313.7 L297.31,312.86 L299.21,312.15 L301.14,311.56 L303.1,311.07 L305.09,310.69 L307.1,310.39 L309.11,310.17 L311.13,310.04 L313.15,309.98 L315.17,310.01 L317.18,310.11 L319.18,310.3 L321.18,310.55 L323.17,310.87 L325.15,311.24 L327.12,311.66 L329.1,312.11 L331.07,312.59 L333.03,313.09 L335,313.59" fill="none" stroke="#35b47a" stroke-width="1.7"/>
<path d="M54.6,334.3 L56.47,334.18 L58.34,334.05 L60.2,333.93 L62.07,333.8 L63.94,333.68 L65.81,333.55 L67.68,333.43 L69.55,333.3 L71.41,333.18 L73.28,333.05 L75.15,332.92 L77.02,332.8 L78.89,332.67 L80.76,332.55 L82.62,332.42 L84.49,332.3 L86.36,332.18 L88.23,332.07 L90.1,331.98 L91.97,331.9 L93.85,331.84 L95.72,331.8 L97.59,331.78 L99.47,331.79 L101.34,331.83 L103.22,331.89 L105.09,332 L106.97,332.13 L108.84,332.3 L110.7,332.51 L112.56,332.76 L114.42,333.05 L116.26,333.39 L118.09,333.76 L119.92,334.19 L121.73,334.66 L123.53,335.17 L125.32,335.73 L127.09,336.33 L128.86,336.96 L130.61,337.63 L132.36,338.34 L134.08,339.08 L135.8,339.85 L137.49,340.67 L139.16,341.53 L140.8,342.43 L142.42,343.37 L144.01,344.36 L145.56,345.4 L147.08,346.48 L148.58,347.61 L150.04,348.77 L151.48,349.97 L152.9,351.19 L154.3,352.44 L155.69,353.71 L157.06,355 L158.43,356.29 L159.79,357.59 L161.13,358.9 L162.46,360.23 L163.76,361.58 L165.04,362.94 L166.29,364.34 L167.5,365.76 L168.66,367.22 L169.79,368.71 L170.89,370.22 L171.95,371.76 L172.99,373.32 L174.02,374.89 L175.03,376.47 L176.04,378.06 L177.05,379.64 L178.06,381.21 L179.09,382.78 L180.14,384.33 L181.2,385.87 L182.3,387.38 L183.43,388.88 L184.58,390.35 L185.75,391.81 L186.93,393.26 L188.13,394.71 L189.32,396.15 L190.51,397.59 L191.7,399.04 L192.87,400.49 L194.05,401.95 L195.23,403.4 L196.43,404.84 L197.66,406.28 L198.92,407.7 L200.22,409.09 L201.57,410.42 L203.01,411.65 L204.52,412.75 L206.14,413.67 L207.87,414.4 L209.68,414.89 L211.54,415.14 L213.4,415.11 L215.25,414.81 L217.03,414.24 L218.7,413.43 L220.25,412.4 L221.68,411.19 L223,409.83 L224.22,408.37 L225.37,406.85 L226.45,405.3 L227.48,403.72 L228.46,402.13 L229.42,400.51 L230.35,398.89 L231.27,397.26 L232.18,395.62 L233.07,393.98 L233.95,392.33 L234.83,390.67 L235.69,389.01 L236.54,387.34 L237.39,385.67 L238.23,384 L239.07,382.32 L239.9,380.64 L240.73,378.96 L241.56,377.28 L242.39,375.6 L243.22,373.92 L244.04,372.24 L244.87,370.56 L245.71,368.89 L246.54,367.21 L247.37,365.53 L248.21,363.86 L249.05,362.18 L249.89,360.51 L250.74,358.84 L251.59,357.17 L252.44,355.51 L253.3,353.85 L254.16,352.19 L255.02,350.53 L255.89,348.87 L256.76,347.21 L257.64,345.55 L258.51,343.89 L259.39,342.23 L260.28,340.57 L261.18,338.93 L262.1,337.29 L263.05,335.68 L264.03,334.08 L265.05,332.51 L266.11,330.97 L267.22,329.47 L268.38,328.01 L269.58,326.57 L270.82,325.17 L272.09,323.79 L273.38,322.42 L274.69,321.08 L276.02,319.75 L277.36,318.44 L278.72,317.15 L280.12,315.9 L281.55,314.69 L283.03,313.54 L284.56,312.44 L286.14,311.43 L287.77,310.5 L289.45,309.69 L291.19,308.99 L292.97,308.42 L294.78,307.95 L296.63,307.58 L298.48,307.31 L300.35,307.12 L302.22,307.02 L304.1,307.02 L305.97,307.1 L307.83,307.26 L309.69,307.5 L311.54,307.8 L313.38,308.16 L315.21,308.57 L317.03,309.02 L318.84,309.5 L320.65,310 L322.45,310.52 L324.25,311.05 L326.04,311.58 L327.84,312.12 L329.63,312.66 L331.42,313.2 L333.21,313.75 L335,314.3" fill="none" stroke="#86d449" stroke-width="1.7"/>
<path d="M54.6,334.8 L56.86,334.64 L59.12,334.49 L61.37,334.33 L63.63,334.17 L65.89,334.01 L68.15,333.85 L70.41,333.69 L72.67,333.53 L74.93,333.37 L77.19,333.2 L79.46,333.03 L81.72,332.87 L83.98,332.7 L86.25,332.55 L88.51,332.42 L90.78,332.31 L93.04,332.24 L95.31,332.2 L97.57,332.22 L99.84,332.28 L102.1,332.42 L104.36,332.61 L106.61,332.86 L108.86,333.18 L111.1,333.55 L113.33,333.98 L115.55,334.46 L117.76,335 L119.95,335.59 L122.12,336.22 L124.28,336.91 L126.43,337.65 L128.56,338.43 L130.67,339.26 L132.77,340.15 L134.84,341.09 L136.89,342.09 L138.9,343.15 L140.86,344.28 L142.78,345.48 L144.64,346.76 L146.45,348.12 L148.19,349.55 L149.89,351.04 L151.55,352.58 L153.19,354.16 L154.8,355.76 L156.41,357.37 L158.02,358.99 L159.63,360.59 L161.24,362.2 L162.83,363.81 L164.4,365.44 L165.94,367.1 L167.43,368.8 L168.86,370.55 L170.24,372.35 L171.55,374.19 L172.82,376.08 L174.03,377.99 L175.21,379.94 L176.34,381.9 L177.45,383.88 L178.52,385.88 L179.58,387.88 L180.62,389.89 L181.65,391.91 L182.66,393.94 L183.67,395.97 L184.67,398 L185.67,400.03 L186.66,402.07 L187.64,404.11 L188.63,406.15 L189.62,408.19 L190.62,410.22 L191.63,412.25 L192.66,414.27 L193.72,416.27 L194.79,418.27 L195.9,420.24 L197.02,422.21 L198.13,424.19 L199.21,426.18 L200.25,428.19 L201.26,430.22 L202.24,432.26 L203.18,434.32 L204.1,436.39 L205.01,438.47 L205.92,440.55 L206.86,442.61 L207.84,444.65 L208.89,446.66 L209.99,448.64 L211.15,450.58 L212.35,452.5 L213.6,454.39 L214.89,456.26 L216.2,458.11 L217.52,459.96 L218.85,461.81 L220.23,463.63 L221.72,465.33 L223.41,466.85 L225.29,468.16 L227.33,469.21 L229.48,470 L231.69,470.44 L233.85,470.37 L235.88,469.67 L237.79,468.49 L239.59,467.02 L241.31,465.43 L242.95,463.8 L244.5,462.11 L245.98,460.38 L247.37,458.58 L248.67,456.74 L249.88,454.83 L251.02,452.88 L252.08,450.88 L253.07,448.84 L254.02,446.77 L254.91,444.68 L255.78,442.58 L256.61,440.47 L257.42,438.35 L258.21,436.22 L258.99,434.1 L259.75,431.97 L260.51,429.83 L261.26,427.69 L262.01,425.56 L262.75,423.41 L263.48,421.27 L264.2,419.12 L264.89,416.96 L265.56,414.8 L266.2,412.63 L266.81,410.45 L267.4,408.26 L267.97,406.07 L268.52,403.87 L269.08,401.67 L269.64,399.47 L270.2,397.28 L270.78,395.09 L271.38,392.9 L271.99,390.72 L272.63,388.55 L273.3,386.38 L273.99,384.23 L274.72,382.08 L275.46,379.94 L276.22,377.81 L276.98,375.68 L277.74,373.54 L278.5,371.4 L279.23,369.26 L279.95,367.11 L280.68,364.96 L281.43,362.83 L282.22,360.71 L283.06,358.61 L283.94,356.52 L284.83,354.43 L285.71,352.34 L286.56,350.25 L287.37,348.13 L288.17,346.01 L288.97,343.89 L289.83,341.8 L290.74,339.73 L291.71,337.68 L292.73,335.65 L293.8,333.65 L294.91,331.67 L296.07,329.71 L297.28,327.77 L298.55,325.88 L299.9,324.06 L301.36,322.32 L302.94,320.69 L304.64,319.18 L306.46,317.82 L308.39,316.61 L310.41,315.59 L312.53,314.77 L314.71,314.14 L316.94,313.69 L319.2,313.42 L321.47,313.3 L323.74,313.33 L326,313.47 L328.25,313.72 L330.5,314.03 L332.75,314.4 L335,314.78" fill="none" stroke="#fde725" stroke-width="1.7"/>
</g>
<rect x="54.6" y="298.6" width="279.8" height="189.7" fill="none" stroke="#636363" stroke-width="1.05"/>
<line x1="54.6" y1="484.5" x2="59.1" y2="484.5" stroke="#636363" stroke-width="1"/>
<text x="0" y="0" transform="translate(49.3,488.01) scale(1,1.15)" font-size="9.4" text-anchor="end" fill="#222222" >−140</text>
<line x1="54.6" y1="461.5" x2="59.1" y2="461.5" stroke="#636363" stroke-width="1"/>
<text x="0" y="0" transform="translate(49.3,465.28) scale(1,1.15)" font-size="9.4" text-anchor="end" fill="#222222" >−120</text>
<line x1="54.6" y1="439.5" x2="59.1" y2="439.5" stroke="#636363" stroke-width="1"/>
<text x="0" y="0" transform="translate(49.3,442.55) scale(1,1.15)" font-size="9.4" text-anchor="end" fill="#222222" >−100</text>
<line x1="54.6" y1="416.5" x2="59.1" y2="416.5" stroke="#636363" stroke-width="1"/>
<text x="0" y="0" transform="translate(49.3,419.82) scale(1,1.15)" font-size="9.4" text-anchor="end" fill="#222222" >−80</text>
<line x1="54.6" y1="393.5" x2="59.1" y2="393.5" stroke="#636363" stroke-width="1"/>
<text x="0" y="0" transform="translate(49.3,397.09) scale(1,1.15)" font-size="9.4" text-anchor="end" fill="#222222" >−60</text>
<line x1="54.6" y1="370.5" x2="59.1" y2="370.5" stroke="#636363" stroke-width="1"/>
<text x="0" y="0" transform="translate(49.3,374.36) scale(1,1.15)" font-size="9.4" text-anchor="end" fill="#222222" >−40</text>
<line x1="54.6" y1="348.5" x2="59.1" y2="348.5" stroke="#636363" stroke-width="1"/>
<text x="0" y="0" transform="translate(49.3,351.63) scale(1,1.15)" font-size="9.4" text-anchor="end" fill="#222222" >−20</text>
<line x1="54.6" y1="325.5" x2="59.1" y2="325.5" stroke="#636363" stroke-width="1"/>
<text x="0" y="0" transform="translate(49.3,328.9) scale(1,1.15)" font-size="9.4" text-anchor="end" fill="#222222" >0</text>
<line x1="54.6" y1="302.5" x2="59.1" y2="302.5" stroke="#636363" stroke-width="1"/>
<text x="0" y="0" transform="translate(49.3,306.17) scale(1,1.15)" font-size="9.4" text-anchor="end" fill="#222222" >20</text>
<text x="0" y="0" transform="translate(54.6,500.9) scale(1,1.15)" font-size="9.4" text-anchor="middle" fill="#222222" >35</text>
<line x1="106.5" y1="488.3" x2="106.5" y2="483.8" stroke="#636363" stroke-width="1"/>
<text x="0" y="0" transform="translate(106.41,500.9) scale(1,1.15)" font-size="9.4" text-anchor="middle" fill="#222222" >30</text>
<line x1="158.5" y1="488.3" x2="158.5" y2="483.8" stroke="#636363" stroke-width="1"/>
<text x="0" y="0" transform="translate(158.23,500.9) scale(1,1.15)" font-size="9.4" text-anchor="middle" fill="#222222" >25</text>
<line x1="210.5" y1="488.3" x2="210.5" y2="483.8" stroke="#636363" stroke-width="1"/>
<text x="0" y="0" transform="translate(210.04,500.9) scale(1,1.15)" font-size="9.4" text-anchor="middle" fill="#222222" >20</text>
<line x1="261.5" y1="488.3" x2="261.5" y2="483.8" stroke="#636363" stroke-width="1"/>
<text x="0" y="0" transform="translate(261.86,500.9) scale(1,1.15)" font-size="9.4" text-anchor="middle" fill="#222222" >15</text>
<line x1="313.5" y1="488.3" x2="313.5" y2="483.8" stroke="#636363" stroke-width="1"/>
<text x="0" y="0" transform="translate(313.67,500.9) scale(1,1.15)" font-size="9.4" text-anchor="middle" fill="#222222" >10</text>
<line x1="59.5" y1="298.6" x2="59.5" y2="301.8" stroke="#636363" stroke-width="1"/>
<line x1="133.5" y1="298.6" x2="133.5" y2="303.4" stroke="#636363" stroke-width="1"/>
<line x1="182.5" y1="298.6" x2="182.5" y2="301.8" stroke="#636363" stroke-width="1"/>
<line x1="217.5" y1="298.6" x2="217.5" y2="301.8" stroke="#636363" stroke-width="1"/>
<line x1="243.5" y1="298.6" x2="243.5" y2="301.8" stroke="#636363" stroke-width="1"/>
<line x1="264.5" y1="298.6" x2="264.5" y2="301.8" stroke="#636363" stroke-width="1"/>
<line x1="280.5" y1="298.6" x2="280.5" y2="303.4" stroke="#636363" stroke-width="1"/>
<line x1="293.5" y1="298.6" x2="293.5" y2="301.8" stroke="#636363" stroke-width="1"/>
<line x1="305.5" y1="298.6" x2="305.5" y2="301.8" stroke="#636363" stroke-width="1"/>
<line x1="314.5" y1="298.6" x2="314.5" y2="301.8" stroke="#636363" stroke-width="1"/>
<line x1="322.5" y1="298.6" x2="322.5" y2="301.8" stroke="#636363" stroke-width="1"/>
<line x1="329.5" y1="298.6" x2="329.5" y2="303.4" stroke="#636363" stroke-width="1"/>
<text x="0" y="0" transform="translate(133.28,293.9) scale(1,1.15)" font-size="9.4" text-anchor="middle" fill="#222222" >50</text>
<text x="0" y="0" transform="translate(280.47,293.9) scale(1,1.15)" font-size="9.4" text-anchor="middle" fill="#222222" >100</text>
<text x="0" y="0" transform="translate(329.54,293.9) scale(1,1.15)" font-size="9.4" text-anchor="middle" fill="#222222" >150</text>
<text x="148.6" y="278" font-size="10.78" text-anchor="start" fill="#222222" >Frequency <tspan font-style="italic">ν</tspan> (MHz)</text>
<text x="170.7" y="514.8" font-size="10.6" text-anchor="start" fill="#222222" >Redshift <tspan font-style="italic">z</tspan></text>
<g transform="translate(22.3,467) rotate(-90)"><text x="0" y="0" font-size="10.7" fill="#222222">Global 21-cm signal ⟨<tspan font-style="italic">T</tspan><tspan font-size="6.5" dy="2">21</tspan><tspan dy="-2">⟩ (mK)</tspan></text></g>
<text x="0" y="0" transform="translate(1,275) scale(1.03,1)" font-size="15" font-weight="bold" fill="#000" stroke="#000" stroke-width="0.55">c</text>
<clipPath id="cd"><rect x="402.7" y="298.6" width="280.2" height="189.7"/></clipPath>
<g clip-path="url(#cd)">
<path d="M402.7,474.3 L405.24,474.68 L407.79,475.04 L410.33,475.36 L412.89,475.62 L415.45,475.8 L418.02,475.89 L420.59,475.87 L423.17,475.72 L425.74,475.44 L428.29,475.02 L430.81,474.45 L433.27,473.73 L435.69,472.85 L438.04,471.81 L440.32,470.62 L442.54,469.31 L444.69,467.88 L446.77,466.36 L448.78,464.75 L450.72,463.07 L452.61,461.33 L454.44,459.53 L456.22,457.68 L457.96,455.78 L459.66,453.86 L461.34,451.9 L462.98,449.92 L464.6,447.92 L466.19,445.91 L467.76,443.87 L469.3,441.82 L470.81,439.74 L472.3,437.65 L473.76,435.54 L475.19,433.41 L476.59,431.26 L477.97,429.09 L479.31,426.91 L480.63,424.71 L481.92,422.49 L483.18,420.26 L484.43,418.01 L485.64,415.75 L486.83,413.47 L488.01,411.19 L489.16,408.89 L490.29,406.58 L491.4,404.27 L492.49,401.95 L493.57,399.62 L494.63,397.28 L495.68,394.94 L496.73,392.59 L497.76,390.25 L498.79,387.9 L499.82,385.54 L500.84,383.19 L501.87,380.84 L502.9,378.49 L503.93,376.14 L504.98,373.8 L506.03,371.46 L507.1,369.13 L508.18,366.8 L509.27,364.48 L510.38,362.17 L511.5,359.86 L512.63,357.55 L513.78,355.25 L514.93,352.96 L516.09,350.67 L517.26,348.39 L518.44,346.11 L519.62,343.83 L520.81,341.56 L522,339.29 L523.2,337.02 L524.41,334.76 L525.64,332.51 L526.9,330.28 L528.21,328.07 L529.56,325.89 L530.97,323.74 L532.46,321.63 L534.02,319.55 L535.68,317.54 L537.43,315.63 L539.3,313.84 L541.3,312.22 L543.45,310.79 L545.74,309.6 L548.16,308.69 L550.68,308.08 L553.24,307.83 L555.79,307.96 L558.32,308.45 L560.79,309.23 L563.19,310.23 L565.49,311.41 L567.7,312.75 L569.82,314.22 L571.84,315.81 L573.77,317.52 L575.61,319.32 L577.36,321.2 L579.03,323.15 L580.63,325.16 L582.18,327.21 L583.69,329.3 L585.17,331.41 L586.62,333.52 L588.07,335.64 L589.52,337.74 L590.96,339.84 L592.41,341.94 L593.85,344.05 L595.28,346.16 L596.7,348.29 L598.11,350.45 L599.51,352.63 L600.89,354.85 L602.26,357.1 L603.65,359.34 L605.11,361.51 L606.68,363.54 L608.4,365.38 L610.32,366.97 L612.45,368.3 L614.73,369.43 L617.1,370.48 L619.48,371.54 L621.81,372.7 L624.01,374.05 L626.1,375.57 L628.05,377.25 L629.87,379.07 L631.55,381.01 L633.1,383.06 L634.52,385.2 L635.83,387.42 L637.03,389.71 L638.14,392.05 L639.16,394.42 L640.11,396.82 L640.99,399.23 L641.82,401.65 L642.6,404.08 L643.34,406.53 L644.07,408.98 L644.77,411.44 L645.47,413.92 L646.18,416.41 L646.9,418.92 L647.64,421.44 L648.39,423.96 L649.15,426.49 L649.92,429.01 L650.69,431.53 L651.45,434.03 L652.2,436.52 L652.93,438.98 L653.64,441.42 L654.33,443.82 L654.99,446.19 L655.62,448.51 L656.2,450.79 L656.75,453.04 L657.28,455.31 L657.8,457.62 L658.32,460.03 L658.86,462.57 L659.44,465.28 L660.06,468.2 L660.74,471.37 L661.49,474.57 L662.35,477.19 L663.35,478.58 L664.51,478.18 L665.78,476.21 L667.05,473.44 L668.25,470.61 L669.34,467.94 L670.34,465.4 L671.27,462.98 L672.13,460.64 L672.95,458.36 L673.73,456.1 L674.49,453.84 L675.25,451.55 L676,449.22 L676.77,446.85 L677.53,444.44 L678.29,442.01 L679.06,439.55 L679.83,437.06 L680.59,434.56 L681.36,432.05 L682.13,429.53 L682.9,427" fill="none" stroke="#46378a" stroke-width="1.7"/>
<path d="M402.7,470.21 L405.2,470.3 L407.7,470.34 L410.2,470.31 L412.7,470.16 L415.19,469.86 L417.66,469.4 L420.1,468.78 L422.47,467.99 L424.77,467.01 L426.98,465.85 L429.11,464.53 L431.15,463.07 L433.1,461.48 L434.98,459.79 L436.78,458.03 L438.5,456.21 L440.16,454.33 L441.77,452.41 L443.32,450.45 L444.83,448.46 L446.3,446.44 L447.75,444.4 L449.18,442.35 L450.59,440.29 L452.01,438.23 L453.42,436.16 L454.83,434.1 L456.23,432.03 L457.63,429.97 L459.03,427.89 L460.42,425.82 L461.8,423.74 L463.18,421.66 L464.54,419.56 L465.9,417.47 L467.24,415.36 L468.58,413.25 L469.89,411.13 L471.2,409 L472.49,406.86 L473.77,404.71 L475.03,402.55 L476.28,400.39 L477.51,398.22 L478.72,396.04 L479.93,393.85 L481.12,391.66 L482.3,389.46 L483.48,387.26 L484.65,385.05 L485.83,382.85 L487,380.64 L488.17,378.44 L489.35,376.23 L490.54,374.03 L491.73,371.83 L492.94,369.64 L494.16,367.45 L495.39,365.27 L496.64,363.1 L497.91,360.94 L499.19,358.8 L500.5,356.67 L501.83,354.55 L503.19,352.45 L504.57,350.38 L505.98,348.32 L507.42,346.29 L508.89,344.29 L510.39,342.3 L511.92,340.34 L513.47,338.38 L515.03,336.44 L516.61,334.51 L518.21,332.57 L519.81,330.64 L521.42,328.71 L523.03,326.77 L524.66,324.83 L526.31,322.92 L528.01,321.07 L529.78,319.29 L531.62,317.61 L533.56,316.05 L535.61,314.64 L537.79,313.4 L540.06,312.34 L542.43,311.46 L544.86,310.78 L547.34,310.31 L549.86,310.06 L552.38,310.04 L554.89,310.24 L557.36,310.67 L559.77,311.33 L562.09,312.21 L564.34,313.29 L566.51,314.56 L568.6,315.98 L570.61,317.53 L572.55,319.18 L574.41,320.91 L576.19,322.71 L577.91,324.54 L579.57,326.42 L581.18,328.34 L582.74,330.29 L584.26,332.26 L585.75,334.25 L587.23,336.27 L588.68,338.29 L590.13,340.32 L591.58,342.35 L593.03,344.38 L594.49,346.41 L595.97,348.42 L597.47,350.42 L599,352.4 L600.56,354.36 L602.16,356.29 L603.81,358.19 L605.5,360.04 L607.26,361.82 L609.08,363.54 L610.96,365.17 L612.92,366.71 L614.95,368.16 L617.01,369.56 L619.09,370.95 L621.16,372.37 L623.19,373.85 L625.17,375.41 L627.06,377.06 L628.84,378.8 L630.5,380.66 L632.02,382.63 L633.4,384.7 L634.65,386.86 L635.81,389.09 L636.87,391.37 L637.86,393.69 L638.81,396.03 L639.71,398.37 L640.58,400.71 L641.43,403.05 L642.26,405.4 L643.07,407.75 L643.86,410.11 L644.65,412.47 L645.43,414.86 L646.2,417.25 L646.98,419.67 L647.75,422.1 L648.52,424.54 L649.29,427 L650.05,429.45 L650.8,431.9 L651.54,434.33 L652.26,436.76 L652.96,439.17 L653.64,441.55 L654.29,443.9 L654.92,446.22 L655.52,448.5 L656.08,450.73 L656.61,452.93 L657.13,455.13 L657.63,457.37 L658.14,459.68 L658.66,462.11 L659.21,464.68 L659.8,467.44 L660.44,470.42 L661.15,473.58 L661.94,476.45 L662.86,478.43 L663.93,478.91 L665.15,477.65 L666.43,475.27 L667.67,472.51 L668.8,469.84 L669.83,467.32 L670.77,464.9 L671.64,462.58 L672.45,460.31 L673.22,458.09 L673.96,455.88 L674.69,453.67 L675.41,451.42 L676.15,449.13 L676.88,446.81 L677.63,444.46 L678.37,442.09 L679.12,439.69 L679.88,437.28 L680.63,434.85 L681.39,432.4 L682.14,429.95 L682.9,427.5" fill="none" stroke="#31688e" stroke-width="1.7"/>
<path d="M402.7,467.01 L404.93,466.39 L407.15,465.74 L409.36,465.05 L411.54,464.28 L413.68,463.42 L415.78,462.46 L417.84,461.39 L419.85,460.24 L421.81,458.99 L423.71,457.66 L425.55,456.25 L427.33,454.77 L429.04,453.22 L430.7,451.6 L432.31,449.93 L433.86,448.2 L435.35,446.43 L436.8,444.63 L438.2,442.78 L439.56,440.91 L440.88,439.02 L442.17,437.1 L443.43,435.17 L444.68,433.22 L445.91,431.26 L447.14,429.3 L448.36,427.34 L449.59,425.38 L450.83,423.43 L452.07,421.48 L453.33,419.54 L454.6,417.61 L455.87,415.68 L457.16,413.77 L458.46,411.86 L459.78,409.96 L461.1,408.07 L462.44,406.18 L463.79,404.31 L465.14,402.43 L466.49,400.55 L467.82,398.67 L469.14,396.77 L470.43,394.85 L471.69,392.92 L472.93,390.96 L474.15,389 L475.35,387.02 L476.54,385.03 L477.71,383.04 L478.89,381.04 L480.06,379.05 L481.23,377.06 L482.41,375.07 L483.6,373.09 L484.81,371.12 L486.03,369.16 L487.27,367.22 L488.54,365.3 L489.83,363.4 L491.15,361.52 L492.5,359.66 L493.87,357.81 L495.26,355.97 L496.67,354.15 L498.09,352.33 L499.52,350.52 L500.97,348.71 L502.42,346.91 L503.88,345.1 L505.35,343.29 L506.81,341.47 L508.28,339.65 L509.75,337.83 L511.23,336.01 L512.73,334.22 L514.26,332.46 L515.83,330.74 L517.45,329.08 L519.12,327.48 L520.85,325.96 L522.65,324.52 L524.53,323.18 L526.49,321.95 L528.54,320.84 L530.67,319.87 L532.87,319.06 L535.12,318.42 L537.41,317.97 L539.74,317.74 L542.08,317.73 L544.42,317.96 L546.72,318.42 L548.94,319.12 L551.05,320.06 L553.01,321.23 L554.83,322.61 L556.52,324.16 L558.13,325.83 L559.68,327.6 L561.19,329.4 L562.71,331.2 L564.25,332.97 L565.81,334.7 L567.36,336.42 L568.88,338.15 L570.34,339.92 L571.72,341.74 L573.02,343.63 L574.23,345.58 L575.38,347.58 L576.46,349.62 L577.49,351.7 L578.48,353.8 L579.44,355.93 L580.37,358.06 L581.3,360.2 L582.22,362.33 L583.16,364.45 L584.13,366.55 L585.19,368.63 L586.35,370.68 L587.69,372.63 L589.26,374.29 L591.14,375.45 L593.32,376.09 L595.63,376.36 L597.97,376.45 L600.29,376.52 L602.59,376.73 L604.87,377.13 L607.11,377.68 L609.33,378.36 L611.53,379.15 L613.68,380.03 L615.78,381.03 L617.81,382.15 L619.76,383.41 L621.6,384.8 L623.34,386.33 L624.95,388 L626.45,389.79 L627.83,391.67 L629.09,393.64 L630.22,395.67 L631.24,397.75 L632.14,399.88 L632.96,402.03 L633.73,404.2 L634.46,406.39 L635.18,408.59 L635.93,410.78 L636.73,412.96 L637.6,415.13 L638.55,417.28 L639.58,419.4 L640.66,421.49 L641.79,423.56 L642.95,425.59 L644.12,427.6 L645.31,429.57 L646.48,431.51 L647.63,433.42 L648.75,435.28 L649.83,437.12 L650.86,438.98 L651.85,440.89 L652.8,442.89 L653.7,445.02 L654.56,447.33 L655.38,449.84 L656.16,452.61 L656.92,455.56 L657.67,458.47 L658.46,461.12 L659.32,463.29 L660.28,464.73 L661.38,465.24 L662.63,464.63 L664,463.1 L665.42,460.97 L666.83,458.57 L668.18,456.2 L669.44,453.99 L670.62,451.9 L671.73,449.9 L672.78,447.95 L673.77,446.01 L674.72,444.07 L675.64,442.07 L676.52,440.03 L677.38,437.94 L678.21,435.81 L679.02,433.64 L679.82,431.45 L680.6,429.23 L681.37,427 L682.14,424.75 L682.9,422.5" fill="none" stroke="#21908d" stroke-width="1.7"/>
<path d="M402.7,466.01 L404.86,465.42 L407,464.8 L409.13,464.14 L411.23,463.4 L413.3,462.57 L415.32,461.64 L417.3,460.61 L419.24,459.49 L421.13,458.29 L422.97,457.02 L424.76,455.67 L426.5,454.27 L428.19,452.81 L429.83,451.29 L431.42,449.72 L432.96,448.1 L434.46,446.44 L435.9,444.74 L437.29,443 L438.64,441.22 L439.95,439.42 L441.23,437.6 L442.47,435.75 L443.69,433.88 L444.89,432 L446.08,430.11 L447.26,428.22 L448.44,426.32 L449.62,424.43 L450.81,422.54 L452.01,420.66 L453.22,418.78 L454.43,416.91 L455.66,415.05 L456.9,413.2 L458.16,411.36 L459.43,409.53 L460.71,407.71 L462.01,405.9 L463.32,404.1 L464.65,402.31 L465.97,400.52 L467.3,398.72 L468.61,396.93 L469.91,395.12 L471.2,393.29 L472.46,391.45 L473.71,389.61 L474.95,387.75 L476.17,385.88 L477.39,384.02 L478.61,382.14 L479.82,380.27 L481.02,378.39 L482.24,376.52 L483.45,374.66 L484.68,372.79 L485.91,370.94 L487.15,369.1 L488.41,367.27 L489.69,365.45 L490.98,363.65 L492.29,361.86 L493.61,360.08 L494.95,358.31 L496.3,356.54 L497.66,354.78 L499.03,353.03 L500.41,351.28 L501.8,349.53 L503.2,347.78 L504.6,346.03 L506.01,344.28 L507.42,342.52 L508.84,340.76 L510.27,339.01 L511.72,337.27 L513.2,335.57 L514.72,333.91 L516.28,332.31 L517.89,330.77 L519.56,329.31 L521.3,327.93 L523.12,326.66 L525.02,325.5 L527,324.47 L529.06,323.58 L531.19,322.85 L533.37,322.31 L535.61,321.96 L537.88,321.82 L540.16,321.91 L542.42,322.21 L544.61,322.74 L546.71,323.5 L548.68,324.49 L550.51,325.71 L552.21,327.13 L553.78,328.71 L555.25,330.42 L556.63,332.25 L557.93,334.15 L559.16,336.09 L560.34,338.05 L561.48,340.02 L562.57,341.99 L563.64,343.97 L564.67,345.95 L565.69,347.93 L566.68,349.92 L567.67,351.9 L568.64,353.87 L569.62,355.85 L570.6,357.81 L571.6,359.77 L572.6,361.73 L573.62,363.69 L574.66,365.66 L575.7,367.66 L576.76,369.69 L577.85,371.75 L579.04,373.7 L580.45,375.37 L582.17,376.58 L584.23,377.27 L586.47,377.51 L588.76,377.41 L591,377.1 L593.21,376.72 L595.41,376.42 L597.61,376.35 L599.83,376.5 L602.05,376.78 L604.28,377.14 L606.5,377.5 L608.67,377.98 L610.72,378.74 L612.61,379.84 L614.41,381.19 L616.15,382.65 L617.86,384.14 L619.53,385.66 L621.14,387.23 L622.67,388.85 L624.09,390.54 L625.39,392.31 L626.55,394.16 L627.59,396.09 L628.53,398.09 L629.4,400.13 L630.22,402.22 L631,404.33 L631.78,406.46 L632.57,408.59 L633.39,410.7 L634.27,412.8 L635.21,414.87 L636.19,416.92 L637.22,418.95 L638.28,420.94 L639.37,422.91 L640.49,424.86 L641.63,426.78 L642.79,428.67 L643.95,430.53 L645.11,432.36 L646.27,434.17 L647.41,435.95 L648.55,437.73 L649.67,439.53 L650.77,441.41 L651.86,443.39 L652.93,445.51 L653.98,447.8 L655.02,450.26 L656.09,452.67 L657.23,454.78 L658.5,456.34 L659.93,457.09 L661.56,456.85 L663.32,455.77 L665.12,454.13 L666.86,452.2 L668.46,450.24 L669.9,448.33 L671.19,446.46 L672.37,444.6 L673.45,442.74 L674.46,440.87 L675.42,438.95 L676.34,436.99 L677.24,434.99 L678.1,432.96 L678.94,430.89 L679.75,428.8 L680.55,426.7 L681.34,424.57 L682.12,422.44 L682.9,420.3" fill="none" stroke="#35b47a" stroke-width="1.7"/>
<path d="M402.7,465.51 L404.82,464.93 L406.94,464.33 L409.03,463.69 L411.09,462.96 L413.11,462.14 L415.09,461.21 L417.02,460.18 L418.91,459.06 L420.75,457.86 L422.55,456.58 L424.3,455.24 L426,453.85 L427.66,452.41 L429.27,450.92 L430.84,449.38 L432.36,447.8 L433.84,446.18 L435.26,444.52 L436.65,442.82 L437.98,441.09 L439.28,439.32 L440.53,437.54 L441.76,435.72 L442.97,433.89 L444.15,432.05 L445.32,430.2 L446.49,428.34 L447.65,426.48 L448.81,424.62 L449.99,422.77 L451.17,420.93 L452.36,419.09 L453.57,417.26 L454.78,415.44 L455.99,413.62 L457.22,411.8 L458.44,409.99 L459.67,408.18 L460.9,406.37 L462.14,404.56 L463.37,402.76 L464.61,400.95 L465.85,399.14 L467.08,397.34 L468.32,395.53 L469.57,393.73 L470.81,391.93 L472.06,390.13 L473.3,388.33 L474.55,386.54 L475.8,384.74 L477.04,382.94 L478.29,381.14 L479.53,379.34 L480.78,377.54 L482.02,375.74 L483.25,373.93 L484.49,372.12 L485.71,370.31 L486.94,368.49 L488.16,366.66 L489.37,364.83 L490.58,363 L491.79,361.17 L493,359.34 L494.22,357.51 L495.46,355.7 L496.71,353.9 L497.98,352.11 L499.28,350.35 L500.61,348.61 L501.97,346.89 L503.37,345.21 L504.81,343.56 L506.29,341.94 L507.82,340.37 L509.41,338.84 L511.06,337.38 L512.77,336.01 L514.56,334.74 L516.43,333.6 L518.39,332.6 L520.42,331.75 L522.52,331.07 L524.67,330.57 L526.86,330.26 L529.09,330.17 L531.32,330.29 L533.53,330.64 L535.66,331.21 L537.7,332.01 L539.6,333.04 L541.34,334.3 L542.94,335.76 L544.42,337.38 L545.77,339.14 L547.03,341.01 L548.19,342.96 L549.28,344.96 L550.3,346.99 L551.27,349.01 L552.19,351.03 L553.08,353.05 L553.94,355.07 L554.78,357.08 L555.61,359.09 L556.44,361.1 L557.27,363.1 L558.12,365.09 L558.98,367.09 L559.88,369.07 L560.83,371.05 L561.84,373 L562.95,374.91 L564.17,376.78 L565.54,378.59 L567.07,380.31 L568.76,381.66 L570.61,382.2 L572.55,381.74 L574.42,380.6 L576.08,379.12 L577.57,377.46 L579,375.72 L580.46,373.99 L582.01,372.39 L583.72,371.03 L585.61,370.02 L587.69,369.42 L589.88,369.2 L592.08,369.3 L594.25,369.69 L596.35,370.33 L598.37,371.18 L600.33,372.19 L602.23,373.32 L604.07,374.53 L605.85,375.84 L607.56,377.24 L609.18,378.72 L610.7,380.3 L612.13,381.95 L613.44,383.69 L614.66,385.5 L615.81,387.37 L616.91,389.27 L617.96,391.2 L619.01,393.14 L620.05,395.07 L621.12,396.99 L622.2,398.9 L623.3,400.79 L624.4,402.68 L625.52,404.56 L626.63,406.44 L627.74,408.33 L628.84,410.22 L629.94,412.12 L631.03,414.03 L632.12,415.93 L633.21,417.84 L634.3,419.74 L635.4,421.64 L636.5,423.53 L637.61,425.42 L638.73,427.29 L639.86,429.16 L641,431 L642.16,432.83 L643.34,434.65 L644.55,436.45 L645.8,438.24 L647.1,440.02 L648.44,441.78 L649.85,443.54 L651.33,445.28 L652.91,446.89 L654.64,448.22 L656.58,449.11 L658.7,449.43 L660.8,449.15 L662.69,448.26 L664.39,446.9 L665.97,445.26 L667.49,443.52 L669,441.82 L670.49,440.16 L671.93,438.52 L673.32,436.86 L674.63,435.15 L675.83,433.38 L676.93,431.53 L677.94,429.62 L678.89,427.65 L679.76,425.63 L680.59,423.58 L681.38,421.51 L682.15,419.41 L682.9,417.3" fill="none" stroke="#86d449" stroke-width="1.7"/>
<path d="M402.7,464.51 L405.05,463.87 L407.38,463.2 L409.69,462.46 L411.96,461.62 L414.17,460.66 L416.33,459.56 L418.43,458.35 L420.48,457.04 L422.48,455.63 L424.41,454.15 L426.29,452.6 L428.12,451 L429.89,449.33 L431.6,447.61 L433.25,445.83 L434.85,444.01 L436.39,442.14 L437.87,440.23 L439.3,438.27 L440.69,436.29 L442.04,434.28 L443.36,432.25 L444.67,430.2 L445.96,428.15 L447.25,426.09 L448.54,424.04 L449.85,422 L451.17,419.97 L452.51,417.94 L453.85,415.93 L455.21,413.92 L456.56,411.91 L457.91,409.9 L459.26,407.89 L460.6,405.87 L461.93,403.84 L463.24,401.81 L464.54,399.77 L465.84,397.72 L467.12,395.67 L468.4,393.61 L469.67,391.54 L470.93,389.47 L472.19,387.4 L473.45,385.33 L474.72,383.26 L475.98,381.18 L477.24,379.11 L478.51,377.05 L479.79,374.99 L481.08,372.94 L482.38,370.89 L483.68,368.85 L485.01,366.83 L486.34,364.81 L487.7,362.81 L489.07,360.82 L490.47,358.85 L491.88,356.89 L493.31,354.94 L494.75,353.01 L496.21,351.08 L497.68,349.16 L499.17,347.25 L500.67,345.34 L502.17,343.44 L503.69,341.54 L505.22,339.64 L506.75,337.75 L508.29,335.85 L509.84,333.96 L511.41,332.08 L513.01,330.23 L514.64,328.41 L516.31,326.64 L518.03,324.93 L519.81,323.28 L521.65,321.71 L523.56,320.22 L525.55,318.83 L527.62,317.55 L529.77,316.39 L532,315.37 L534.28,314.52 L536.62,313.86 L539.01,313.39 L541.43,313.15 L543.87,313.12 L546.3,313.3 L548.7,313.68 L551.07,314.27 L553.38,315.04 L555.62,315.98 L557.8,317.08 L559.91,318.31 L561.94,319.66 L563.9,321.11 L565.77,322.65 L567.58,324.27 L569.33,325.95 L571.03,327.68 L572.69,329.45 L574.31,331.26 L575.91,333.08 L577.47,334.94 L579,336.82 L580.5,338.73 L581.96,340.67 L583.38,342.63 L584.77,344.62 L586.11,346.63 L587.42,348.67 L588.71,350.73 L590.01,352.78 L591.33,354.81 L592.69,356.81 L594.13,358.77 L595.65,360.66 L597.28,362.49 L599.04,364.21 L600.93,365.81 L602.93,367.23 L605.05,368.44 L607.27,369.39 L609.59,370.04 L611.98,370.45 L614.4,370.75 L616.81,371.1 L619.16,371.62 L621.42,372.46 L623.55,373.61 L625.56,375.02 L627.41,376.64 L629.1,378.43 L630.62,380.34 L631.99,382.35 L633.21,384.44 L634.32,386.61 L635.32,388.84 L636.23,391.12 L637.07,393.42 L637.86,395.74 L638.61,398.06 L639.34,400.38 L640.04,402.69 L640.74,405.01 L641.43,407.32 L642.12,409.63 L642.82,411.94 L643.54,414.26 L644.27,416.58 L645.04,418.91 L645.83,421.24 L646.64,423.58 L647.47,425.91 L648.3,428.24 L649.12,430.57 L649.93,432.88 L650.73,435.19 L651.5,437.48 L652.23,439.76 L652.92,442.01 L653.55,444.24 L654.13,446.45 L654.65,448.64 L655.14,450.82 L655.61,453.03 L656.09,455.27 L656.6,457.56 L657.16,459.94 L657.8,462.4 L658.53,464.99 L659.39,467.71 L660.39,470.54 L661.52,473.06 L662.75,474.67 L664.08,474.75 L665.45,473.28 L666.78,470.91 L668.02,468.33 L669.13,465.84 L670.13,463.45 L671.03,461.13 L671.85,458.88 L672.62,456.67 L673.35,454.49 L674.05,452.31 L674.74,450.13 L675.43,447.92 L676.15,445.69 L676.87,443.43 L677.6,441.15 L678.34,438.85 L679.09,436.53 L679.84,434.2 L680.6,431.86 L681.37,429.51 L682.13,427.16 L682.9,424.8" fill="none" stroke="#fde725" stroke-width="1.7"/>
</g>
<rect x="402.7" y="298.6" width="280.2" height="189.7" fill="none" stroke="#636363" stroke-width="1.05"/>
<line x1="402.7" y1="470.5" x2="405.3" y2="470.5" stroke="#636363" stroke-width="1"/>
<line x1="402.7" y1="458.5" x2="405.3" y2="458.5" stroke="#636363" stroke-width="1"/>
<line x1="402.7" y1="450.5" x2="405.3" y2="450.5" stroke="#636363" stroke-width="1"/>
<line x1="402.7" y1="444.5" x2="405.3" y2="444.5" stroke="#636363" stroke-width="1"/>
<line x1="402.7" y1="439.5" x2="405.3" y2="439.5" stroke="#636363" stroke-width="1"/>
<line x1="402.7" y1="435.5" x2="405.3" y2="435.5" stroke="#636363" stroke-width="1"/>
<line x1="402.7" y1="431.5" x2="405.3" y2="431.5" stroke="#636363" stroke-width="1"/>
<line x1="402.7" y1="428.5" x2="405.3" y2="428.5" stroke="#636363" stroke-width="1"/>
<line x1="402.7" y1="425.5" x2="407.2" y2="425.5" stroke="#636363" stroke-width="1"/>
<line x1="402.7" y1="405.5" x2="405.3" y2="405.5" stroke="#636363" stroke-width="1"/>
<line x1="402.7" y1="394.5" x2="405.3" y2="394.5" stroke="#636363" stroke-width="1"/>
<line x1="402.7" y1="386.5" x2="405.3" y2="386.5" stroke="#636363" stroke-width="1"/>
<line x1="402.7" y1="380.5" x2="405.3" y2="380.5" stroke="#636363" stroke-width="1"/>
<line x1="402.7" y1="375.5" x2="405.3" y2="375.5" stroke="#636363" stroke-width="1"/>
<line x1="402.7" y1="370.5" x2="405.3" y2="370.5" stroke="#636363" stroke-width="1"/>
<line x1="402.7" y1="366.5" x2="405.3" y2="366.5" stroke="#636363" stroke-width="1"/>
<line x1="402.7" y1="363.5" x2="405.3" y2="363.5" stroke="#636363" stroke-width="1"/>
<line x1="402.7" y1="360.5" x2="407.2" y2="360.5" stroke="#636363" stroke-width="1"/>
<line x1="402.7" y1="341.5" x2="405.3" y2="341.5" stroke="#636363" stroke-width="1"/>
<line x1="402.7" y1="329.5" x2="405.3" y2="329.5" stroke="#636363" stroke-width="1"/>
<line x1="402.7" y1="321.5" x2="405.3" y2="321.5" stroke="#636363" stroke-width="1"/>
<line x1="402.7" y1="315.5" x2="405.3" y2="315.5" stroke="#636363" stroke-width="1"/>
<line x1="402.7" y1="310.5" x2="405.3" y2="310.5" stroke="#636363" stroke-width="1"/>
<line x1="402.7" y1="306.5" x2="405.3" y2="306.5" stroke="#636363" stroke-width="1"/>
<line x1="402.7" y1="302.5" x2="405.3" y2="302.5" stroke="#636363" stroke-width="1"/>
<line x1="402.7" y1="299.5" x2="405.3" y2="299.5" stroke="#636363" stroke-width="1"/>
<text x="0" y="0" transform="translate(397.8,429) scale(1,1.15)" font-size="9.2" text-anchor="end" fill="#222222" >10<tspan dy="-3.8" font-size="6.3">0</tspan></text>
<text x="0" y="0" transform="translate(397.8,364.5) scale(1,1.15)" font-size="9.2" text-anchor="end" fill="#222222" >10<tspan dy="-3.8" font-size="6.3">1</tspan></text>
<text x="0" y="0" transform="translate(402.7,500.9) scale(1,1.15)" font-size="9.4" text-anchor="middle" fill="#222222" >35</text>
<line x1="454.5" y1="488.3" x2="454.5" y2="483.8" stroke="#636363" stroke-width="1"/>
<text x="0" y="0" transform="translate(454.59,500.9) scale(1,1.15)" font-size="9.4" text-anchor="middle" fill="#222222" >30</text>
<line x1="506.5" y1="488.3" x2="506.5" y2="483.8" stroke="#636363" stroke-width="1"/>
<text x="0" y="0" transform="translate(506.48,500.9) scale(1,1.15)" font-size="9.4" text-anchor="middle" fill="#222222" >25</text>
<line x1="558.5" y1="488.3" x2="558.5" y2="483.8" stroke="#636363" stroke-width="1"/>
<text x="0" y="0" transform="translate(558.37,500.9) scale(1,1.15)" font-size="9.4" text-anchor="middle" fill="#222222" >20</text>
<line x1="610.5" y1="488.3" x2="610.5" y2="483.8" stroke="#636363" stroke-width="1"/>
<text x="0" y="0" transform="translate(610.26,500.9) scale(1,1.15)" font-size="9.4" text-anchor="middle" fill="#222222" >15</text>
<line x1="662.5" y1="488.3" x2="662.5" y2="483.8" stroke="#636363" stroke-width="1"/>
<text x="0" y="0" transform="translate(662.14,500.9) scale(1,1.15)" font-size="9.4" text-anchor="middle" fill="#222222" >10</text>
<line x1="407.5" y1="298.6" x2="407.5" y2="301.8" stroke="#636363" stroke-width="1"/>
<line x1="481.5" y1="298.6" x2="481.5" y2="303.4" stroke="#636363" stroke-width="1"/>
<line x1="530.5" y1="298.6" x2="530.5" y2="301.8" stroke="#636363" stroke-width="1"/>
<line x1="565.5" y1="298.6" x2="565.5" y2="301.8" stroke="#636363" stroke-width="1"/>
<line x1="592.5" y1="298.6" x2="592.5" y2="301.8" stroke="#636363" stroke-width="1"/>
<line x1="612.5" y1="298.6" x2="612.5" y2="301.8" stroke="#636363" stroke-width="1"/>
<line x1="628.5" y1="298.6" x2="628.5" y2="303.4" stroke="#636363" stroke-width="1"/>
<line x1="642.5" y1="298.6" x2="642.5" y2="301.8" stroke="#636363" stroke-width="1"/>
<line x1="653.5" y1="298.6" x2="653.5" y2="301.8" stroke="#636363" stroke-width="1"/>
<line x1="662.5" y1="298.6" x2="662.5" y2="301.8" stroke="#636363" stroke-width="1"/>
<line x1="671.5" y1="298.6" x2="671.5" y2="301.8" stroke="#636363" stroke-width="1"/>
<line x1="678.5" y1="298.6" x2="678.5" y2="303.4" stroke="#636363" stroke-width="1"/>
<text x="0" y="0" transform="translate(481.49,293.9) scale(1,1.15)" font-size="9.4" text-anchor="middle" fill="#222222" >50</text>
<text x="0" y="0" transform="translate(628.89,293.9) scale(1,1.15)" font-size="9.4" text-anchor="middle" fill="#222222" >100</text>
<text x="0" y="0" transform="translate(678.03,293.9) scale(1,1.15)" font-size="9.4" text-anchor="middle" fill="#222222" >150</text>
<text x="496.8" y="278" font-size="10.78" text-anchor="start" fill="#222222" >Frequency <tspan font-style="italic">ν</tspan> (MHz)</text>
<text x="519" y="514.8" font-size="10.6" text-anchor="start" fill="#222222" >Redshift <tspan font-style="italic">z</tspan></text>
<text x="409.3" y="316.9" font-size="10.46" text-anchor="start" fill="#222222" ><tspan font-style="italic">k</tspan> = 0.1 cMpc<tspan font-size="6.5" dy="-4">−1</tspan></text>
<g transform="translate(376.3,472.4) rotate(-90)"><text x="0" y="0" font-size="11" fill="#222222">21-cm power spectrum <tspan font-style="italic">Δ</tspan><tspan font-size="6.5" dy="-4">2</tspan><tspan dy="4"> (mK</tspan><tspan font-size="6.5" dy="-4">2</tspan><tspan dy="4">)</tspan></text></g>
<text x="0" y="0" transform="translate(361.8,275) scale(1.12,1)" font-size="15" font-weight="bold" fill="#000" stroke="#000" stroke-width="0.55">d</text>
<line x1="155.6" y1="531.5" x2="166.5" y2="531.5" stroke="#46378a" stroke-width="1.8"/>
<text x="171.7" y="534.6" font-size="10.5" text-anchor="start" fill="#222222" >Sal IMF</text>
<line x1="221.5" y1="531.5" x2="233" y2="531.5" stroke="#31688e" stroke-width="1.8"/>
<text x="238" y="534.6" font-size="10.5" text-anchor="start" fill="#222222" >Int-2 IMF</text>
<line x1="296.2" y1="531.5" x2="307.9" y2="531.5" stroke="#21908d" stroke-width="1.8"/>
<text x="312.6" y="534.6" font-size="10.5" text-anchor="start" fill="#222222" >Int-1 IMF</text>
<line x1="369.8" y1="531.5" x2="381" y2="531.5" stroke="#35b47a" stroke-width="1.8"/>
<text x="385" y="534.6" font-size="10.5" text-anchor="start" fill="#222222" >Int-0.5 IMF</text>
<line x1="453.4" y1="531.5" x2="463.9" y2="531.5" stroke="#86d449" stroke-width="1.8"/>
<text x="468.4" y="534.6" font-size="10.5" text-anchor="start" fill="#222222" >Int-0 IMF</text>
<line x1="526.7" y1="531.5" x2="537.5" y2="531.5" stroke="#fde725" stroke-width="1.8"/>
<text x="543.3" y="534.6" font-size="10.5" text-anchor="start" fill="#222222" >Top IMF</text>
</svg>
</body></html>
